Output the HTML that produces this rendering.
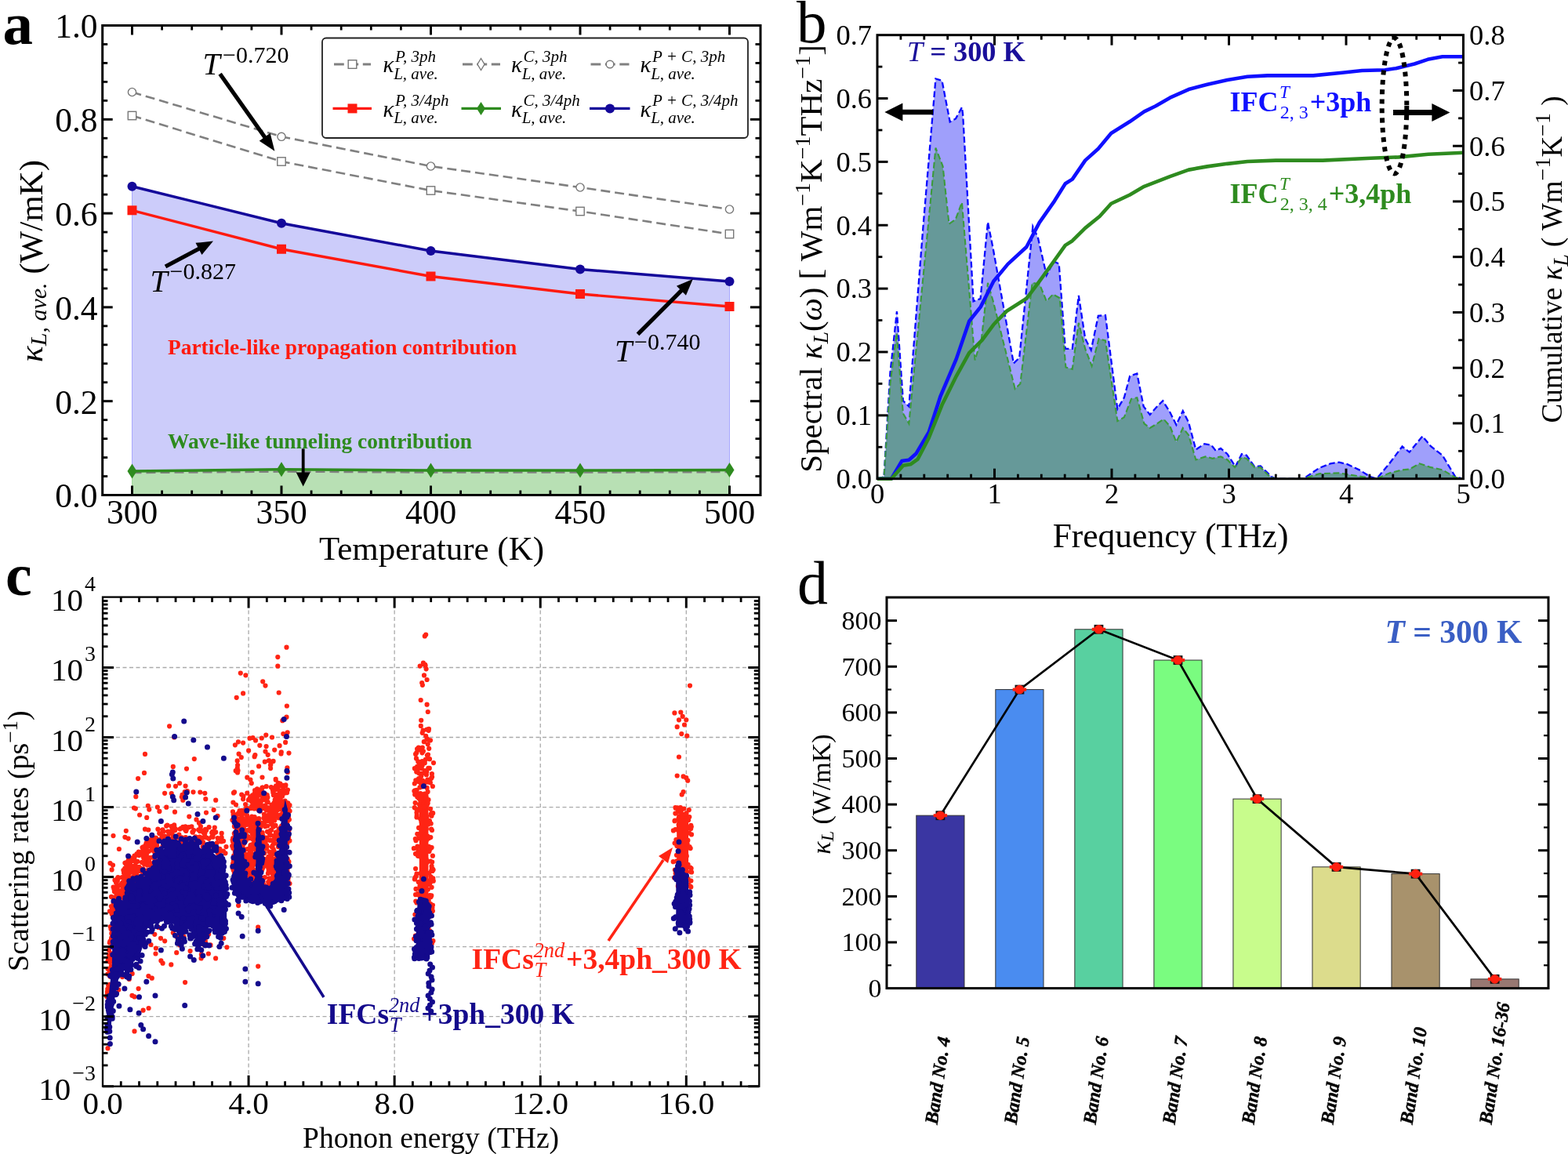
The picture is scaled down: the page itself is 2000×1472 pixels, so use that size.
<!DOCTYPE html>
<html><head><meta charset="utf-8"><title>Figure</title>
<style>html,body{margin:0;padding:0;background:#fff;overflow:hidden}svg{display:block}</style>
</head><body>
<svg width="2000" height="1472" viewBox="0 0 2000 1472" font-family="'Liberation Serif', 'Times New Roman', serif">
<rect width="2000" height="1472" fill="#fff"/>
<polygon points="168.5,237.75 359,284.75 549.5,320 740,343.5 930.5,359 930.5,599.5 740,600 549.5,600 359,598.8 168.5,601" fill="#ccccfa" stroke="#a8a8ff" stroke-width="1" />
<polygon points="168.5,601 359,598.8 549.5,600 740,600 930.5,599.5 930.5,631.5 168.5,631.5" fill="#b8e0b4" stroke="#a0d89c" stroke-width="1" />
<polyline points="168.5,117.5 359,174.3 549.5,212 740,239 930.5,267" stroke="#808080" stroke-width="2.6" fill="none" stroke-dasharray="12,6"/>
<polyline points="168.5,147.5 359,206 549.5,243 740,269.5 930.5,298.5" stroke="#808080" stroke-width="2.6" fill="none" stroke-dasharray="12,6"/>
<polyline points="168.5,603 359,601.5 549.5,602.5 740,602.5 930.5,602" stroke="#808080" stroke-width="2.6" fill="none" stroke-dasharray="12,6"/>
<circle cx="168.5" cy="117.5" r="5.1" fill="#fff" stroke="#777" stroke-width="1.4"/>
<circle cx="359" cy="174.3" r="5.1" fill="#fff" stroke="#777" stroke-width="1.4"/>
<circle cx="549.5" cy="212" r="5.1" fill="#fff" stroke="#777" stroke-width="1.4"/>
<circle cx="740" cy="239" r="5.1" fill="#fff" stroke="#777" stroke-width="1.4"/>
<circle cx="930.5" cy="267" r="5.1" fill="#fff" stroke="#777" stroke-width="1.4"/>
<rect x="163.3" y="142.3" width="10.4" height="10.4" fill="#fff" stroke="#777" stroke-width="1.4"/>
<rect x="353.8" y="200.8" width="10.4" height="10.4" fill="#fff" stroke="#777" stroke-width="1.4"/>
<rect x="544.3" y="237.8" width="10.4" height="10.4" fill="#fff" stroke="#777" stroke-width="1.4"/>
<rect x="734.8" y="264.3" width="10.4" height="10.4" fill="#fff" stroke="#777" stroke-width="1.4"/>
<rect x="925.3" y="293.3" width="10.4" height="10.4" fill="#fff" stroke="#777" stroke-width="1.4"/>
<polyline points="168.5,268.3 359,317.75 549.5,352.5 740,375 930.5,391" stroke="#ff1a0f" stroke-width="3.4" fill="none" />
<polyline points="168.5,237.75 359,284.75 549.5,320 740,343.5 930.5,359" stroke="#14089a" stroke-width="3.4" fill="none" />
<polyline points="168.5,601 359,598.8 549.5,600 740,600 930.5,599.5" stroke="#2e8b1f" stroke-width="3.4" fill="none" />
<rect x="162.5" y="262.3" width="12" height="12" fill="#ff1a0f"/>
<rect x="353" y="311.75" width="12" height="12" fill="#ff1a0f"/>
<rect x="543.5" y="346.5" width="12" height="12" fill="#ff1a0f"/>
<rect x="734" y="369" width="12" height="12" fill="#ff1a0f"/>
<rect x="924.5" y="385" width="12" height="12" fill="#ff1a0f"/>
<circle cx="168.5" cy="237.75" r="6" fill="#14089a"/>
<circle cx="359" cy="284.75" r="6" fill="#14089a"/>
<circle cx="549.5" cy="320" r="6" fill="#14089a"/>
<circle cx="740" cy="343.5" r="6" fill="#14089a"/>
<circle cx="930.5" cy="359" r="6" fill="#14089a"/>
<polygon points="168.5,591.5 174.5,601 168.5,610.5 162.5,601" fill="#2e8b1f" stroke="none" stroke-width="1" />
<polygon points="359,589.3 365,598.8 359,608.3 353,598.8" fill="#2e8b1f" stroke="none" stroke-width="1" />
<polygon points="549.5,590.5 555.5,600 549.5,609.5 543.5,600" fill="#2e8b1f" stroke="none" stroke-width="1" />
<polygon points="740,590.5 746,600 740,609.5 734,600" fill="#2e8b1f" stroke="none" stroke-width="1" />
<polygon points="930.5,590 936.5,599.5 930.5,609 924.5,599.5" fill="#2e8b1f" stroke="none" stroke-width="1" />
<line x1="168.5" y1="631.5" x2="168.5" y2="619.5" stroke="#000" stroke-width="3" />
<line x1="168.5" y1="32.5" x2="168.5" y2="44.5" stroke="#000" stroke-width="3" />
<line x1="206.6" y1="631.5" x2="206.6" y2="625.5" stroke="#000" stroke-width="2.8" />
<line x1="206.6" y1="32.5" x2="206.6" y2="38.5" stroke="#000" stroke-width="2.8" />
<line x1="244.7" y1="631.5" x2="244.7" y2="625.5" stroke="#000" stroke-width="2.8" />
<line x1="244.7" y1="32.5" x2="244.7" y2="38.5" stroke="#000" stroke-width="2.8" />
<line x1="282.8" y1="631.5" x2="282.8" y2="625.5" stroke="#000" stroke-width="2.8" />
<line x1="282.8" y1="32.5" x2="282.8" y2="38.5" stroke="#000" stroke-width="2.8" />
<line x1="320.9" y1="631.5" x2="320.9" y2="625.5" stroke="#000" stroke-width="2.8" />
<line x1="320.9" y1="32.5" x2="320.9" y2="38.5" stroke="#000" stroke-width="2.8" />
<line x1="359" y1="631.5" x2="359" y2="619.5" stroke="#000" stroke-width="3" />
<line x1="359" y1="32.5" x2="359" y2="44.5" stroke="#000" stroke-width="3" />
<line x1="397.1" y1="631.5" x2="397.1" y2="625.5" stroke="#000" stroke-width="2.8" />
<line x1="397.1" y1="32.5" x2="397.1" y2="38.5" stroke="#000" stroke-width="2.8" />
<line x1="435.2" y1="631.5" x2="435.2" y2="625.5" stroke="#000" stroke-width="2.8" />
<line x1="435.2" y1="32.5" x2="435.2" y2="38.5" stroke="#000" stroke-width="2.8" />
<line x1="473.3" y1="631.5" x2="473.3" y2="625.5" stroke="#000" stroke-width="2.8" />
<line x1="473.3" y1="32.5" x2="473.3" y2="38.5" stroke="#000" stroke-width="2.8" />
<line x1="511.4" y1="631.5" x2="511.4" y2="625.5" stroke="#000" stroke-width="2.8" />
<line x1="511.4" y1="32.5" x2="511.4" y2="38.5" stroke="#000" stroke-width="2.8" />
<line x1="549.5" y1="631.5" x2="549.5" y2="619.5" stroke="#000" stroke-width="3" />
<line x1="549.5" y1="32.5" x2="549.5" y2="44.5" stroke="#000" stroke-width="3" />
<line x1="587.6" y1="631.5" x2="587.6" y2="625.5" stroke="#000" stroke-width="2.8" />
<line x1="587.6" y1="32.5" x2="587.6" y2="38.5" stroke="#000" stroke-width="2.8" />
<line x1="625.7" y1="631.5" x2="625.7" y2="625.5" stroke="#000" stroke-width="2.8" />
<line x1="625.7" y1="32.5" x2="625.7" y2="38.5" stroke="#000" stroke-width="2.8" />
<line x1="663.8" y1="631.5" x2="663.8" y2="625.5" stroke="#000" stroke-width="2.8" />
<line x1="663.8" y1="32.5" x2="663.8" y2="38.5" stroke="#000" stroke-width="2.8" />
<line x1="701.9" y1="631.5" x2="701.9" y2="625.5" stroke="#000" stroke-width="2.8" />
<line x1="701.9" y1="32.5" x2="701.9" y2="38.5" stroke="#000" stroke-width="2.8" />
<line x1="740" y1="631.5" x2="740" y2="619.5" stroke="#000" stroke-width="3" />
<line x1="740" y1="32.5" x2="740" y2="44.5" stroke="#000" stroke-width="3" />
<line x1="778.1" y1="631.5" x2="778.1" y2="625.5" stroke="#000" stroke-width="2.8" />
<line x1="778.1" y1="32.5" x2="778.1" y2="38.5" stroke="#000" stroke-width="2.8" />
<line x1="816.2" y1="631.5" x2="816.2" y2="625.5" stroke="#000" stroke-width="2.8" />
<line x1="816.2" y1="32.5" x2="816.2" y2="38.5" stroke="#000" stroke-width="2.8" />
<line x1="854.3" y1="631.5" x2="854.3" y2="625.5" stroke="#000" stroke-width="2.8" />
<line x1="854.3" y1="32.5" x2="854.3" y2="38.5" stroke="#000" stroke-width="2.8" />
<line x1="892.4" y1="631.5" x2="892.4" y2="625.5" stroke="#000" stroke-width="2.8" />
<line x1="892.4" y1="32.5" x2="892.4" y2="38.5" stroke="#000" stroke-width="2.8" />
<line x1="930.5" y1="631.5" x2="930.5" y2="619.5" stroke="#000" stroke-width="3" />
<line x1="930.5" y1="32.5" x2="930.5" y2="44.5" stroke="#000" stroke-width="3" />
<line x1="130.7" y1="607.54" x2="137.2" y2="607.54" stroke="#000" stroke-width="2.8" />
<line x1="970" y1="607.54" x2="963.5" y2="607.54" stroke="#000" stroke-width="2.8" />
<line x1="130.7" y1="583.58" x2="137.2" y2="583.58" stroke="#000" stroke-width="2.8" />
<line x1="970" y1="583.58" x2="963.5" y2="583.58" stroke="#000" stroke-width="2.8" />
<line x1="130.7" y1="559.62" x2="137.2" y2="559.62" stroke="#000" stroke-width="2.8" />
<line x1="970" y1="559.62" x2="963.5" y2="559.62" stroke="#000" stroke-width="2.8" />
<line x1="130.7" y1="535.66" x2="137.2" y2="535.66" stroke="#000" stroke-width="2.8" />
<line x1="970" y1="535.66" x2="963.5" y2="535.66" stroke="#000" stroke-width="2.8" />
<line x1="130.7" y1="511.7" x2="143.7" y2="511.7" stroke="#000" stroke-width="3" />
<line x1="970" y1="511.7" x2="957" y2="511.7" stroke="#000" stroke-width="3" />
<line x1="130.7" y1="487.74" x2="137.2" y2="487.74" stroke="#000" stroke-width="2.8" />
<line x1="970" y1="487.74" x2="963.5" y2="487.74" stroke="#000" stroke-width="2.8" />
<line x1="130.7" y1="463.78" x2="137.2" y2="463.78" stroke="#000" stroke-width="2.8" />
<line x1="970" y1="463.78" x2="963.5" y2="463.78" stroke="#000" stroke-width="2.8" />
<line x1="130.7" y1="439.82" x2="137.2" y2="439.82" stroke="#000" stroke-width="2.8" />
<line x1="970" y1="439.82" x2="963.5" y2="439.82" stroke="#000" stroke-width="2.8" />
<line x1="130.7" y1="415.86" x2="137.2" y2="415.86" stroke="#000" stroke-width="2.8" />
<line x1="970" y1="415.86" x2="963.5" y2="415.86" stroke="#000" stroke-width="2.8" />
<line x1="130.7" y1="391.9" x2="143.7" y2="391.9" stroke="#000" stroke-width="3" />
<line x1="970" y1="391.9" x2="957" y2="391.9" stroke="#000" stroke-width="3" />
<line x1="130.7" y1="367.94" x2="137.2" y2="367.94" stroke="#000" stroke-width="2.8" />
<line x1="970" y1="367.94" x2="963.5" y2="367.94" stroke="#000" stroke-width="2.8" />
<line x1="130.7" y1="343.98" x2="137.2" y2="343.98" stroke="#000" stroke-width="2.8" />
<line x1="970" y1="343.98" x2="963.5" y2="343.98" stroke="#000" stroke-width="2.8" />
<line x1="130.7" y1="320.02" x2="137.2" y2="320.02" stroke="#000" stroke-width="2.8" />
<line x1="970" y1="320.02" x2="963.5" y2="320.02" stroke="#000" stroke-width="2.8" />
<line x1="130.7" y1="296.06" x2="137.2" y2="296.06" stroke="#000" stroke-width="2.8" />
<line x1="970" y1="296.06" x2="963.5" y2="296.06" stroke="#000" stroke-width="2.8" />
<line x1="130.7" y1="272.1" x2="143.7" y2="272.1" stroke="#000" stroke-width="3" />
<line x1="970" y1="272.1" x2="957" y2="272.1" stroke="#000" stroke-width="3" />
<line x1="130.7" y1="248.14" x2="137.2" y2="248.14" stroke="#000" stroke-width="2.8" />
<line x1="970" y1="248.14" x2="963.5" y2="248.14" stroke="#000" stroke-width="2.8" />
<line x1="130.7" y1="224.18" x2="137.2" y2="224.18" stroke="#000" stroke-width="2.8" />
<line x1="970" y1="224.18" x2="963.5" y2="224.18" stroke="#000" stroke-width="2.8" />
<line x1="130.7" y1="200.22" x2="137.2" y2="200.22" stroke="#000" stroke-width="2.8" />
<line x1="970" y1="200.22" x2="963.5" y2="200.22" stroke="#000" stroke-width="2.8" />
<line x1="130.7" y1="176.26" x2="137.2" y2="176.26" stroke="#000" stroke-width="2.8" />
<line x1="970" y1="176.26" x2="963.5" y2="176.26" stroke="#000" stroke-width="2.8" />
<line x1="130.7" y1="152.3" x2="143.7" y2="152.3" stroke="#000" stroke-width="3" />
<line x1="970" y1="152.3" x2="957" y2="152.3" stroke="#000" stroke-width="3" />
<line x1="130.7" y1="128.34" x2="137.2" y2="128.34" stroke="#000" stroke-width="2.8" />
<line x1="970" y1="128.34" x2="963.5" y2="128.34" stroke="#000" stroke-width="2.8" />
<line x1="130.7" y1="104.38" x2="137.2" y2="104.38" stroke="#000" stroke-width="2.8" />
<line x1="970" y1="104.38" x2="963.5" y2="104.38" stroke="#000" stroke-width="2.8" />
<line x1="130.7" y1="80.42" x2="137.2" y2="80.42" stroke="#000" stroke-width="2.8" />
<line x1="970" y1="80.42" x2="963.5" y2="80.42" stroke="#000" stroke-width="2.8" />
<line x1="130.7" y1="56.46" x2="137.2" y2="56.46" stroke="#000" stroke-width="2.8" />
<line x1="970" y1="56.46" x2="963.5" y2="56.46" stroke="#000" stroke-width="2.8" />
<rect x="411" y="48.5" width="543" height="127.5" rx="5" ry="5" fill="#fff" stroke="#222" stroke-width="1.8"/>
<line x1="426" y1="82" x2="473" y2="82" stroke="#808080" stroke-width="3.2" stroke-dasharray="12.8,5.6"/>
<rect x="444.2" y="76.7" width="10.6" height="10.6" fill="#fff" stroke="#777" stroke-width="1.4"/>
<text x="488.5" y="92.3" font-size="29" text-anchor="start" font-weight="normal" font-style="italic" fill="#000" >κ</text>
<text x="504" y="78.5" font-size="21" text-anchor="start" font-weight="normal" font-style="italic" fill="#000" >P, 3ph</text>
<text x="502.2" y="100.8" font-size="21" text-anchor="start" font-weight="normal" font-style="italic" fill="#000" >L, ave.</text>
<line x1="590" y1="82" x2="638" y2="82" stroke="#808080" stroke-width="3.2" stroke-dasharray="12.8,5.6"/>
<polygon points="613.5,74.5 618,82 613.5,89.5 609,82" fill="#fff" stroke="#777" stroke-width="1.4" />
<text x="652" y="92.3" font-size="29" text-anchor="start" font-weight="normal" font-style="italic" fill="#000" >κ</text>
<text x="667.5" y="78.5" font-size="21" text-anchor="start" font-weight="normal" font-style="italic" fill="#000" >C, 3ph</text>
<text x="665.7" y="100.8" font-size="21" text-anchor="start" font-weight="normal" font-style="italic" fill="#000" >L, ave.</text>
<line x1="753.5" y1="82" x2="802.5" y2="82" stroke="#808080" stroke-width="3.2" stroke-dasharray="12.8,5.6"/>
<circle cx="778" cy="82" r="4.8" fill="#fff" stroke="#777" stroke-width="1.4"/>
<text x="816.5" y="92.3" font-size="29" text-anchor="start" font-weight="normal" font-style="italic" fill="#000" >κ</text>
<text x="832" y="78.5" font-size="21" text-anchor="start" font-weight="normal" font-style="italic" fill="#000" >P + C, 3ph</text>
<text x="830.2" y="100.8" font-size="21" text-anchor="start" font-weight="normal" font-style="italic" fill="#000" >L, ave.</text>
<line x1="424.5" y1="138.4" x2="474" y2="138.4" stroke="#ff1a0f" stroke-width="3.4" />
<rect x="443.5" y="132.4" width="12" height="12" fill="#ff1a0f"/>
<text x="488.5" y="148.7" font-size="29" text-anchor="start" font-weight="normal" font-style="italic" fill="#000" >κ</text>
<text x="504" y="134.9" font-size="21" text-anchor="start" font-weight="normal" font-style="italic" fill="#000" >P, 3/4ph</text>
<text x="502.2" y="157.2" font-size="21" text-anchor="start" font-weight="normal" font-style="italic" fill="#000" >L, ave.</text>
<line x1="588.5" y1="138.4" x2="639" y2="138.4" stroke="#2e8b1f" stroke-width="3.4" />
<polygon points="613.5,129.9 619,138.4 613.5,146.9 608,138.4" fill="#2e8b1f" stroke="none" stroke-width="1" />
<text x="652" y="148.7" font-size="29" text-anchor="start" font-weight="normal" font-style="italic" fill="#000" >κ</text>
<text x="667.5" y="134.9" font-size="21" text-anchor="start" font-weight="normal" font-style="italic" fill="#000" >C, 3/4ph</text>
<text x="665.7" y="157.2" font-size="21" text-anchor="start" font-weight="normal" font-style="italic" fill="#000" >L, ave.</text>
<line x1="752" y1="138.4" x2="803.5" y2="138.4" stroke="#14089a" stroke-width="3.4" />
<circle cx="778" cy="138.4" r="6" fill="#14089a"/>
<text x="816.5" y="148.7" font-size="29" text-anchor="start" font-weight="normal" font-style="italic" fill="#000" >κ</text>
<text x="832" y="134.9" font-size="21" text-anchor="start" font-weight="normal" font-style="italic" fill="#000" >P + C, 3/4ph</text>
<text x="830.2" y="157.2" font-size="21" text-anchor="start" font-weight="normal" font-style="italic" fill="#000" >L, ave.</text>
<text x="258.5" y="95.4" font-size="40" text-anchor="start" font-weight="normal" font-style="italic" fill="#000" >T</text>
<text x="284" y="80.1" font-size="30" text-anchor="start" font-weight="normal" font-style="normal" fill="#000" >−0.720</text>
<line x1="280.6" y1="94.3" x2="338.83" y2="176.39" stroke="#000" stroke-width="5.2" /><polygon points="350.4,192.7 330.74,179.67 344.6,169.84" fill="#000" stroke="none" stroke-width="1" />
<text x="191.5" y="372" font-size="40" text-anchor="start" font-weight="normal" font-style="italic" fill="#000" >T</text>
<text x="216.5" y="356" font-size="30" text-anchor="start" font-weight="normal" font-style="normal" fill="#000" >−0.827</text>
<line x1="211" y1="340" x2="255.23" y2="316.43" stroke="#000" stroke-width="5.2" /><polygon points="272,307.5 257.46,324.88 249.47,309.87" fill="#000" stroke="none" stroke-width="1" />
<text x="784" y="461" font-size="40" text-anchor="start" font-weight="normal" font-style="italic" fill="#000" >T</text>
<text x="809" y="446" font-size="30" text-anchor="start" font-weight="normal" font-style="normal" fill="#000" >−0.740</text>
<line x1="813.5" y1="426.3" x2="870.36" y2="369.44" stroke="#000" stroke-width="5.2" /><polygon points="883.8,356 874.96,376.86 862.94,364.84" fill="#000" stroke="none" stroke-width="1" />
<text x="214" y="451.7" font-size="27.4" text-anchor="start" font-weight="bold" font-style="normal" fill="#ff1a0f" >Particle-like propagation contribution</text>
<text x="214" y="571.7" font-size="27.4" text-anchor="start" font-weight="bold" font-style="normal" fill="#2e8b1f" >Wave-like tunneling contribution</text>
<line x1="386.7" y1="572.4" x2="386.7" y2="604.4" stroke="#000" stroke-width="3.8" /><polygon points="386.7,620.4 377.7,602.4 395.7,602.4" fill="#000" stroke="none" stroke-width="1" />
<rect x="130.7" y="32.5" width="839.3" height="599" fill="none" stroke="#000" stroke-width="3"/>
<text x="124.5" y="647.3" font-size="43.5" text-anchor="end" font-weight="normal" font-style="normal" fill="#000" >0.0</text>
<text x="124.5" y="527.5" font-size="43.5" text-anchor="end" font-weight="normal" font-style="normal" fill="#000" >0.2</text>
<text x="124.5" y="407.7" font-size="43.5" text-anchor="end" font-weight="normal" font-style="normal" fill="#000" >0.4</text>
<text x="124.5" y="287.9" font-size="43.5" text-anchor="end" font-weight="normal" font-style="normal" fill="#000" >0.6</text>
<text x="124.5" y="168.1" font-size="43.5" text-anchor="end" font-weight="normal" font-style="normal" fill="#000" >0.8</text>
<text x="124.5" y="48.3" font-size="43.5" text-anchor="end" font-weight="normal" font-style="normal" fill="#000" >1.0</text>
<text x="168.5" y="667.5" font-size="43.5" text-anchor="middle" font-weight="normal" font-style="normal" fill="#000" >300</text>
<text x="359" y="667.5" font-size="43.5" text-anchor="middle" font-weight="normal" font-style="normal" fill="#000" >350</text>
<text x="549.5" y="667.5" font-size="43.5" text-anchor="middle" font-weight="normal" font-style="normal" fill="#000" >400</text>
<text x="740" y="667.5" font-size="43.5" text-anchor="middle" font-weight="normal" font-style="normal" fill="#000" >450</text>
<text x="930.5" y="667.5" font-size="43.5" text-anchor="middle" font-weight="normal" font-style="normal" fill="#000" >500</text>
<text x="550.5" y="714" font-size="43" text-anchor="middle" font-weight="normal" font-style="normal" fill="#000" >Temperature (K)</text>
<text transform="translate(53.5,333) rotate(-90)" font-size="43" text-anchor="middle"><tspan font-style="italic">κ</tspan><tspan font-style="italic" font-size="30" dy="5">L, ave.</tspan><tspan dy="-5">  (W/mK)</tspan></text>
<text x="3.5" y="56" font-size="77" text-anchor="start" font-weight="bold" font-style="normal" fill="#000" >a</text>
<polygon points="1119,610.7 1127.52,608.27 1135.44,475.66 1143.97,397.23 1151.89,511.24 1159.37,518.52 1177.31,291.3 1193.45,100.47 1201.52,102.9 1211.69,155.46 1219.02,151.42 1226.94,136.86 1228.13,145.76 1241.59,384.29 1250.56,381.06 1259.98,283.22 1267.01,318.8 1292.87,463.53 1300.19,456.26 1317.39,288.88 1323.96,303.43 1334.88,351.14 1344.15,333.35 1350.72,336.58 1358.8,444.94 1367.77,444.94 1375.84,377.01 1384.21,432 1391.69,446.55 1400.81,402.89 1409.93,402.08 1425.33,521.75 1433.85,507.2 1441.17,479.71 1450.29,476.47 1458.66,518.52 1466.74,529.03 1475.86,518.52 1483.18,511.24 1492.3,525.8 1500.37,541.97 1508.75,524.18 1516.07,538.73 1525.34,573.5 1536.25,566.23 1545.08,567.84 1550.91,575.12 1557.04,571.89 1565.56,579.16 1575.72,595.34 1583.8,579.16 1589.92,580.78 1600.24,595.34 1607.87,594.53 1622.22,608.27 1627.3,610.7 1662.43,610.7 1682.62,596.95 1697.12,591.29 1708.03,589.68 1718.49,592.1 1733.74,599.38 1748.39,608.27 1755.87,610.7 1772.17,591.29 1788.61,569.46 1797.73,576.74 1814.32,556.52 1825.24,569.46 1839.89,580.78 1856.33,608.27 1866.5,610.7 1866.5,610.7 1119,610.7" fill="#9f9ffb" stroke="none" stroke-width="1" />
<polygon points="1119,610.7 1127.52,608.27 1135.44,489.41 1143.67,424.72 1151.89,527.41 1159.37,540.35 1193.45,188.61 1202.57,212.06 1210.49,285.64 1218.72,279.98 1226.94,258.15 1243.53,459.49 1251.91,432 1259.98,360.84 1267.01,385.1 1294.66,495.88 1301.39,489.41 1316.64,360.84 1325.91,362.46 1334.88,384.29 1342.95,375.4 1351.77,380.25 1359.4,468.39 1367.77,470.81 1375.84,411.78 1384.21,444.94 1392.59,466.77 1401.56,432 1409.93,434.43 1425.33,537.12 1433.85,532.27 1442.97,508.82 1450.29,507.2 1459.41,540.35 1466.74,546.01 1475.86,540.35 1484.23,534.69 1492.3,543.59 1500.37,563.8 1508.75,546.01 1516.07,554.91 1525.34,586.44 1537.6,582.4 1546.57,584.82 1557.04,582.4 1565.56,586.44 1574.97,596.15 1583.8,583.21 1589.92,584.82 1600.24,596.15 1607.87,596.15 1619.83,608.27 1627.3,610.7 1662.43,610.7 1682.62,604.23 1708.03,603.42 1733.45,607.47 1748.39,609.89 1755.87,610.7 1772.17,603.42 1788.61,599.38 1797.73,598.57 1810.59,591.29 1825.24,596.15 1839.89,599.38 1856.33,609.08 1866.5,610.7 1866.5,610.7 1119,610.7" fill="#669999" stroke="none" stroke-width="1" />
<polyline points="1119,610.7 1127.52,608.27 1135.44,475.66 1143.97,397.23 1151.89,511.24 1159.37,518.52 1177.31,291.3 1193.45,100.47 1201.52,102.9 1211.69,155.46 1219.02,151.42 1226.94,136.86 1228.13,145.76 1241.59,384.29 1250.56,381.06 1259.98,283.22 1267.01,318.8 1292.87,463.53 1300.19,456.26 1317.39,288.88 1323.96,303.43 1334.88,351.14 1344.15,333.35 1350.72,336.58 1358.8,444.94 1367.77,444.94 1375.84,377.01 1384.21,432 1391.69,446.55 1400.81,402.89 1409.93,402.08 1425.33,521.75 1433.85,507.2 1441.17,479.71 1450.29,476.47 1458.66,518.52 1466.74,529.03 1475.86,518.52 1483.18,511.24 1492.3,525.8 1500.37,541.97 1508.75,524.18 1516.07,538.73 1525.34,573.5 1536.25,566.23 1545.08,567.84 1550.91,575.12 1557.04,571.89 1565.56,579.16 1575.72,595.34 1583.8,579.16 1589.92,580.78 1600.24,595.34 1607.87,594.53 1622.22,608.27 1627.3,610.7 1662.43,610.7 1682.62,596.95 1697.12,591.29 1708.03,589.68 1718.49,592.1 1733.74,599.38 1748.39,608.27 1755.87,610.7 1772.17,591.29 1788.61,569.46 1797.73,576.74 1814.32,556.52 1825.24,569.46 1839.89,580.78 1856.33,608.27 1866.5,610.7" stroke="#0a0aff" stroke-width="2.3" fill="none" stroke-dasharray="7.8,3.6"/>
<polyline points="1119,610.7 1127.52,608.27 1135.44,489.41 1143.67,424.72 1151.89,527.41 1159.37,540.35 1193.45,188.61 1202.57,212.06 1210.49,285.64 1218.72,279.98 1226.94,258.15 1243.53,459.49 1251.91,432 1259.98,360.84 1267.01,385.1 1294.66,495.88 1301.39,489.41 1316.64,360.84 1325.91,362.46 1334.88,384.29 1342.95,375.4 1351.77,380.25 1359.4,468.39 1367.77,470.81 1375.84,411.78 1384.21,444.94 1392.59,466.77 1401.56,432 1409.93,434.43 1425.33,537.12 1433.85,532.27 1442.97,508.82 1450.29,507.2 1459.41,540.35 1466.74,546.01 1475.86,540.35 1484.23,534.69 1492.3,543.59 1500.37,563.8 1508.75,546.01 1516.07,554.91 1525.34,586.44 1537.6,582.4 1546.57,584.82 1557.04,582.4 1565.56,586.44 1574.97,596.15 1583.8,583.21 1589.92,584.82 1600.24,596.15 1607.87,596.15 1619.83,608.27 1627.3,610.7 1662.43,610.7 1682.62,604.23 1708.03,603.42 1733.45,607.47 1748.39,609.89 1755.87,610.7 1772.17,603.42 1788.61,599.38 1797.73,598.57 1810.59,591.29 1825.24,596.15 1839.89,599.38 1856.33,609.08 1866.5,610.7" stroke="#3c9a3c" stroke-width="2.1" fill="none" stroke-dasharray="7.8,3.6"/>
<polyline points="1119,610.7 1136.94,610.7 1150.25,588.06 1159.37,586.65 1168.34,578.86 1184.78,551.27 1199.58,505.28 1219.76,457.88 1236.21,409.77 1250.86,391.38 1267.3,358.83 1285.54,336.9 1309.31,314.97 1325.76,283.84 1344.15,257.66 1358.8,234.31 1367.77,228.65 1384.21,204.6 1400.81,189.74 1417.25,169.93 1441.17,155.07 1459.41,142.34 1474.06,135.26 1492.3,124.65 1516.07,114.04 1539.84,107.67 1565.56,102.01 1591.12,97.76 1616.69,96.35 1675.14,96.35 1711.77,92.81 1737.33,89.98 1766.63,89.27 1780.54,87.15 1804.16,81.49 1821.05,75.83 1839.74,72.29 1866.5,72.29" stroke="#1010ff" stroke-width="4.6" fill="none" stroke-linejoin="round"/>
<polyline points="1119,610.7 1136.94,610.7 1152.04,593.72 1161.31,592.31 1170.43,585.94 1184.78,558.35 1201.52,516.6 1219.76,479.81 1236.21,450.1 1252.65,433.83 1267.3,414.01 1283.75,397.04 1309.31,380.76 1325.76,358.83 1344.15,333.36 1358.8,312.84 1367.77,307.18 1384.21,290.91 1402.6,276.05 1417.25,259.78 1441.17,248.46 1459.41,237.85 1492.3,225.11 1516.07,216.62 1539.84,212.38 1565.56,208.84 1591.12,206.01 1627.3,204.6 1687.1,204.6 1748.39,201.77 1784.28,200.35 1821.65,196.81 1866.5,194.69" stroke="#2e8b1f" stroke-width="4.6" fill="none" stroke-linejoin="round"/>
<line x1="1148.9" y1="610.7" x2="1148.9" y2="604.7" stroke="#000" stroke-width="2.8" />
<line x1="1148.9" y1="44.7" x2="1148.9" y2="50.7" stroke="#000" stroke-width="2.8" />
<line x1="1178.8" y1="610.7" x2="1178.8" y2="604.7" stroke="#000" stroke-width="2.8" />
<line x1="1178.8" y1="44.7" x2="1178.8" y2="50.7" stroke="#000" stroke-width="2.8" />
<line x1="1208.7" y1="610.7" x2="1208.7" y2="604.7" stroke="#000" stroke-width="2.8" />
<line x1="1208.7" y1="44.7" x2="1208.7" y2="50.7" stroke="#000" stroke-width="2.8" />
<line x1="1238.6" y1="610.7" x2="1238.6" y2="604.7" stroke="#000" stroke-width="2.8" />
<line x1="1238.6" y1="44.7" x2="1238.6" y2="50.7" stroke="#000" stroke-width="2.8" />
<line x1="1268.5" y1="610.7" x2="1268.5" y2="597.7" stroke="#000" stroke-width="3" />
<line x1="1268.5" y1="44.7" x2="1268.5" y2="57.7" stroke="#000" stroke-width="3" />
<line x1="1298.4" y1="610.7" x2="1298.4" y2="604.7" stroke="#000" stroke-width="2.8" />
<line x1="1298.4" y1="44.7" x2="1298.4" y2="50.7" stroke="#000" stroke-width="2.8" />
<line x1="1328.3" y1="610.7" x2="1328.3" y2="604.7" stroke="#000" stroke-width="2.8" />
<line x1="1328.3" y1="44.7" x2="1328.3" y2="50.7" stroke="#000" stroke-width="2.8" />
<line x1="1358.2" y1="610.7" x2="1358.2" y2="604.7" stroke="#000" stroke-width="2.8" />
<line x1="1358.2" y1="44.7" x2="1358.2" y2="50.7" stroke="#000" stroke-width="2.8" />
<line x1="1388.1" y1="610.7" x2="1388.1" y2="604.7" stroke="#000" stroke-width="2.8" />
<line x1="1388.1" y1="44.7" x2="1388.1" y2="50.7" stroke="#000" stroke-width="2.8" />
<line x1="1418" y1="610.7" x2="1418" y2="597.7" stroke="#000" stroke-width="3" />
<line x1="1418" y1="44.7" x2="1418" y2="57.7" stroke="#000" stroke-width="3" />
<line x1="1447.9" y1="610.7" x2="1447.9" y2="604.7" stroke="#000" stroke-width="2.8" />
<line x1="1447.9" y1="44.7" x2="1447.9" y2="50.7" stroke="#000" stroke-width="2.8" />
<line x1="1477.8" y1="610.7" x2="1477.8" y2="604.7" stroke="#000" stroke-width="2.8" />
<line x1="1477.8" y1="44.7" x2="1477.8" y2="50.7" stroke="#000" stroke-width="2.8" />
<line x1="1507.7" y1="610.7" x2="1507.7" y2="604.7" stroke="#000" stroke-width="2.8" />
<line x1="1507.7" y1="44.7" x2="1507.7" y2="50.7" stroke="#000" stroke-width="2.8" />
<line x1="1537.6" y1="610.7" x2="1537.6" y2="604.7" stroke="#000" stroke-width="2.8" />
<line x1="1537.6" y1="44.7" x2="1537.6" y2="50.7" stroke="#000" stroke-width="2.8" />
<line x1="1567.5" y1="610.7" x2="1567.5" y2="597.7" stroke="#000" stroke-width="3" />
<line x1="1567.5" y1="44.7" x2="1567.5" y2="57.7" stroke="#000" stroke-width="3" />
<line x1="1597.4" y1="610.7" x2="1597.4" y2="604.7" stroke="#000" stroke-width="2.8" />
<line x1="1597.4" y1="44.7" x2="1597.4" y2="50.7" stroke="#000" stroke-width="2.8" />
<line x1="1627.3" y1="610.7" x2="1627.3" y2="604.7" stroke="#000" stroke-width="2.8" />
<line x1="1627.3" y1="44.7" x2="1627.3" y2="50.7" stroke="#000" stroke-width="2.8" />
<line x1="1657.2" y1="610.7" x2="1657.2" y2="604.7" stroke="#000" stroke-width="2.8" />
<line x1="1657.2" y1="44.7" x2="1657.2" y2="50.7" stroke="#000" stroke-width="2.8" />
<line x1="1687.1" y1="610.7" x2="1687.1" y2="604.7" stroke="#000" stroke-width="2.8" />
<line x1="1687.1" y1="44.7" x2="1687.1" y2="50.7" stroke="#000" stroke-width="2.8" />
<line x1="1717" y1="610.7" x2="1717" y2="597.7" stroke="#000" stroke-width="3" />
<line x1="1717" y1="44.7" x2="1717" y2="57.7" stroke="#000" stroke-width="3" />
<line x1="1746.9" y1="610.7" x2="1746.9" y2="604.7" stroke="#000" stroke-width="2.8" />
<line x1="1746.9" y1="44.7" x2="1746.9" y2="50.7" stroke="#000" stroke-width="2.8" />
<line x1="1776.8" y1="610.7" x2="1776.8" y2="604.7" stroke="#000" stroke-width="2.8" />
<line x1="1776.8" y1="44.7" x2="1776.8" y2="50.7" stroke="#000" stroke-width="2.8" />
<line x1="1806.7" y1="610.7" x2="1806.7" y2="604.7" stroke="#000" stroke-width="2.8" />
<line x1="1806.7" y1="44.7" x2="1806.7" y2="50.7" stroke="#000" stroke-width="2.8" />
<line x1="1836.6" y1="610.7" x2="1836.6" y2="604.7" stroke="#000" stroke-width="2.8" />
<line x1="1836.6" y1="44.7" x2="1836.6" y2="50.7" stroke="#000" stroke-width="2.8" />
<line x1="1119" y1="570.27" x2="1125.4" y2="570.27" stroke="#000" stroke-width="2.8" />
<line x1="1119" y1="529.84" x2="1132.5" y2="529.84" stroke="#000" stroke-width="3" />
<line x1="1119" y1="489.41" x2="1125.4" y2="489.41" stroke="#000" stroke-width="2.8" />
<line x1="1119" y1="448.98" x2="1132.5" y2="448.98" stroke="#000" stroke-width="3" />
<line x1="1119" y1="408.55" x2="1125.4" y2="408.55" stroke="#000" stroke-width="2.8" />
<line x1="1119" y1="368.12" x2="1132.5" y2="368.12" stroke="#000" stroke-width="3" />
<line x1="1119" y1="327.69" x2="1125.4" y2="327.69" stroke="#000" stroke-width="2.8" />
<line x1="1119" y1="287.26" x2="1132.5" y2="287.26" stroke="#000" stroke-width="3" />
<line x1="1119" y1="246.83" x2="1125.4" y2="246.83" stroke="#000" stroke-width="2.8" />
<line x1="1119" y1="206.4" x2="1132.5" y2="206.4" stroke="#000" stroke-width="3" />
<line x1="1119" y1="165.97" x2="1125.4" y2="165.97" stroke="#000" stroke-width="2.8" />
<line x1="1119" y1="125.54" x2="1132.5" y2="125.54" stroke="#000" stroke-width="3" />
<line x1="1119" y1="85.11" x2="1125.4" y2="85.11" stroke="#000" stroke-width="2.8" />
<line x1="1866.5" y1="575.33" x2="1860.1" y2="575.33" stroke="#000" stroke-width="2.8" />
<line x1="1866.5" y1="539.95" x2="1853" y2="539.95" stroke="#000" stroke-width="3" />
<line x1="1866.5" y1="504.58" x2="1860.1" y2="504.58" stroke="#000" stroke-width="2.8" />
<line x1="1866.5" y1="469.2" x2="1853" y2="469.2" stroke="#000" stroke-width="3" />
<line x1="1866.5" y1="433.83" x2="1860.1" y2="433.83" stroke="#000" stroke-width="2.8" />
<line x1="1866.5" y1="398.45" x2="1853" y2="398.45" stroke="#000" stroke-width="3" />
<line x1="1866.5" y1="363.08" x2="1860.1" y2="363.08" stroke="#000" stroke-width="2.8" />
<line x1="1866.5" y1="327.7" x2="1853" y2="327.7" stroke="#000" stroke-width="3" />
<line x1="1866.5" y1="292.33" x2="1860.1" y2="292.33" stroke="#000" stroke-width="2.8" />
<line x1="1866.5" y1="256.95" x2="1853" y2="256.95" stroke="#000" stroke-width="3" />
<line x1="1866.5" y1="221.57" x2="1860.1" y2="221.57" stroke="#000" stroke-width="2.8" />
<line x1="1866.5" y1="186.2" x2="1853" y2="186.2" stroke="#000" stroke-width="3" />
<line x1="1866.5" y1="150.83" x2="1860.1" y2="150.83" stroke="#000" stroke-width="2.8" />
<line x1="1866.5" y1="115.45" x2="1853" y2="115.45" stroke="#000" stroke-width="3" />
<line x1="1866.5" y1="80.08" x2="1860.1" y2="80.08" stroke="#000" stroke-width="2.8" />
<rect x="1119" y="44.7" width="747.5" height="566" fill="none" stroke="#000" stroke-width="3"/>
<line x1="1190.2" y1="143" x2="1149.4" y2="143" stroke="#000" stroke-width="6.5" /><polygon points="1128.4,143 1151.4,131.5 1151.4,154.5" fill="#000" stroke="none" stroke-width="1" />
<line x1="1777" y1="143.5" x2="1828.4" y2="143.5" stroke="#000" stroke-width="7.2" /><polygon points="1849.4,143.5 1826.4,155 1826.4,132" fill="#000" stroke="none" stroke-width="1" />
<ellipse cx="1778.5" cy="135" rx="15.8" ry="86.5" fill="none" stroke="#000" stroke-width="6" stroke-dasharray="6,6.2"/>
<text x="1157" y="78" font-size="36.3" font-weight="bold" fill="#1a0f9a"><tspan font-style="italic" font-weight="normal">T</tspan> = 300 K</text>
<text x="1568.5" y="142.3" font-size="36" font-weight="bold" fill="#1010ff">IFC<tspan font-size="23" font-weight="normal" font-style="italic" dx="1.5" dy="-17">T</tspan><tspan font-size="24" font-weight="normal" dx="-12" dy="26">2, 3</tspan><tspan dy="-9" dx="2">+3ph</tspan></text>
<text x="1568.5" y="258.6" font-size="36" font-weight="bold" fill="#2e8b1f">IFC<tspan font-size="23" font-weight="normal" font-style="italic" dx="1.5" dy="-17">T</tspan><tspan font-size="24" font-weight="normal" dx="-12" dy="26">2, 3, 4</tspan><tspan dy="-9" dx="2">+3,4ph</tspan></text>
<text x="1112" y="623" font-size="36.5" text-anchor="end" font-weight="normal" font-style="normal" fill="#000" >0.0</text>
<text x="1112" y="542.14" font-size="36.5" text-anchor="end" font-weight="normal" font-style="normal" fill="#000" >0.1</text>
<text x="1112" y="461.28" font-size="36.5" text-anchor="end" font-weight="normal" font-style="normal" fill="#000" >0.2</text>
<text x="1112" y="380.42" font-size="36.5" text-anchor="end" font-weight="normal" font-style="normal" fill="#000" >0.3</text>
<text x="1112" y="299.56" font-size="36.5" text-anchor="end" font-weight="normal" font-style="normal" fill="#000" >0.4</text>
<text x="1112" y="218.7" font-size="36.5" text-anchor="end" font-weight="normal" font-style="normal" fill="#000" >0.5</text>
<text x="1112" y="137.84" font-size="36.5" text-anchor="end" font-weight="normal" font-style="normal" fill="#000" >0.6</text>
<text x="1112" y="56.98" font-size="36.5" text-anchor="end" font-weight="normal" font-style="normal" fill="#000" >0.7</text>
<text x="1874" y="623" font-size="36.5" text-anchor="start" font-weight="normal" font-style="normal" fill="#000" >0.0</text>
<text x="1874" y="552.25" font-size="36.5" text-anchor="start" font-weight="normal" font-style="normal" fill="#000" >0.1</text>
<text x="1874" y="481.5" font-size="36.5" text-anchor="start" font-weight="normal" font-style="normal" fill="#000" >0.2</text>
<text x="1874" y="410.75" font-size="36.5" text-anchor="start" font-weight="normal" font-style="normal" fill="#000" >0.3</text>
<text x="1874" y="340" font-size="36.5" text-anchor="start" font-weight="normal" font-style="normal" fill="#000" >0.4</text>
<text x="1874" y="269.25" font-size="36.5" text-anchor="start" font-weight="normal" font-style="normal" fill="#000" >0.5</text>
<text x="1874" y="198.5" font-size="36.5" text-anchor="start" font-weight="normal" font-style="normal" fill="#000" >0.6</text>
<text x="1874" y="127.75" font-size="36.5" text-anchor="start" font-weight="normal" font-style="normal" fill="#000" >0.7</text>
<text x="1874" y="57" font-size="36.5" text-anchor="start" font-weight="normal" font-style="normal" fill="#000" >0.8</text>
<text x="1119" y="642" font-size="36.5" text-anchor="middle" font-weight="normal" font-style="normal" fill="#000" >0</text>
<text x="1268.5" y="642" font-size="36.5" text-anchor="middle" font-weight="normal" font-style="normal" fill="#000" >1</text>
<text x="1418" y="642" font-size="36.5" text-anchor="middle" font-weight="normal" font-style="normal" fill="#000" >2</text>
<text x="1567.5" y="642" font-size="36.5" text-anchor="middle" font-weight="normal" font-style="normal" fill="#000" >3</text>
<text x="1717" y="642" font-size="36.5" text-anchor="middle" font-weight="normal" font-style="normal" fill="#000" >4</text>
<text x="1866.5" y="642" font-size="36.5" text-anchor="middle" font-weight="normal" font-style="normal" fill="#000" >5</text>
<text x="1493" y="698.3" font-size="43.5" text-anchor="middle" font-weight="normal" font-style="normal" fill="#000" >Frequency (THz)</text>
<text transform="translate(1047.5,330) rotate(-90)" font-size="41" text-anchor="middle">Spectral <tspan font-style="italic">κ</tspan><tspan font-style="italic" font-size="28" dy="8">L</tspan><tspan dy="-8">(</tspan><tspan font-style="italic">ω</tspan>) [ Wm<tspan font-size="28" dy="-15">−1</tspan><tspan dy="15">K</tspan><tspan font-size="28" dy="-15">−1</tspan><tspan dy="15">THz</tspan><tspan font-size="28" dy="-15">−1</tspan><tspan dy="15">]</tspan></text>
<text transform="translate(1992,331) rotate(-90)" font-size="37" text-anchor="middle">Cumulative <tspan font-style="italic">κ</tspan><tspan font-style="italic" font-size="28" dy="8">L</tspan><tspan dy="-8"> ( Wm</tspan><tspan font-size="28" dy="-15">−1</tspan><tspan dy="15">K</tspan><tspan font-size="28" dy="-15">−1</tspan><tspan dy="15"> )</tspan></text>
<text x="1016" y="54" font-size="77" text-anchor="start" font-weight="normal" font-style="normal" fill="#000" >b</text>
<line x1="317.08" y1="761.6" x2="317.08" y2="1385.7" stroke="#aaa" stroke-width="1.3" stroke-dasharray="5,3.5"/>
<line x1="503.16" y1="761.6" x2="503.16" y2="1385.7" stroke="#aaa" stroke-width="1.3" stroke-dasharray="5,3.5"/>
<line x1="689.24" y1="761.6" x2="689.24" y2="1385.7" stroke="#aaa" stroke-width="1.3" stroke-dasharray="5,3.5"/>
<line x1="875.32" y1="761.6" x2="875.32" y2="1385.7" stroke="#aaa" stroke-width="1.3" stroke-dasharray="5,3.5"/>
<line x1="131" y1="1296.68" x2="968.3" y2="1296.68" stroke="#aaa" stroke-width="1.3" stroke-dasharray="5,3.5"/>
<line x1="131" y1="1207.64" x2="968.3" y2="1207.64" stroke="#aaa" stroke-width="1.3" stroke-dasharray="5,3.5"/>
<line x1="131" y1="1118.6" x2="968.3" y2="1118.6" stroke="#aaa" stroke-width="1.3" stroke-dasharray="5,3.5"/>
<line x1="131" y1="1029.56" x2="968.3" y2="1029.56" stroke="#aaa" stroke-width="1.3" stroke-dasharray="5,3.5"/>
<line x1="131" y1="940.52" x2="968.3" y2="940.52" stroke="#aaa" stroke-width="1.3" stroke-dasharray="5,3.5"/>
<line x1="131" y1="851.48" x2="968.3" y2="851.48" stroke="#aaa" stroke-width="1.3" stroke-dasharray="5,3.5"/>
<polygon points="534.79,1011.75 546.42,1011.75 546.42,1189.83 534.79,1189.83" fill="#ff2414" stroke="none" stroke-width="1" />
<polygon points="863.22,1038.46 878.11,1038.46 878.11,1127.5 863.22,1127.5" fill="#ff2414" stroke="none" stroke-width="1" />
<path d="M156.4 1143.8h0M170.7 1113.4h0M139.3 1237.3h0M163.3 1104.6h0M174.6 1089.2h0M197.5 1102.5h0M144.9 1158.1h0M147.2 1138.1h0M171.0 1123.2h0M178.2 1107.1h0M165.0 1118.6h0M149.9 1131.7h0M182.2 1109.3h0M163.1 1108.0h0M139.1 1218.4h0M190.3 1099.7h0M173.6 1106.1h0M167.2 1106.6h0M176.9 1086.6h0M161.4 1113.9h0M148.4 1155.8h0M143.2 1161.3h0M139.8 1202.5h0M187.1 1080.8h0M159.3 1107.5h0M147.6 1152.0h0M174.0 1114.1h0M160.7 1119.3h0M168.3 1104.9h0M193.4 1078.2h0M161.9 1124.2h0M140.6 1245.7h0M158.1 1145.8h0M144.7 1196.9h0M174.6 1118.4h0M160.8 1136.4h0M165.8 1113.1h0M158.0 1135.6h0M137.5 1225.8h0M167.7 1124.0h0M189.9 1085.8h0M145.4 1133.9h0M158.0 1137.5h0M190.0 1079.3h0M150.5 1136.3h0M138.2 1257.1h0M198.2 1088.9h0M195.8 1094.1h0M147.4 1149.1h0M187.7 1094.5h0M143.2 1181.8h0M183.7 1102.1h0M158.0 1113.4h0M161.3 1101.2h0M145.8 1165.3h0M146.9 1135.2h0M158.4 1122.8h0M194.6 1080.0h0M163.7 1101.2h0M152.2 1144.2h0M154.0 1138.5h0M156.8 1125.2h0M161.5 1101.2h0M168.4 1126.0h0M137.3 1261.7h0M181.0 1099.9h0M171.9 1098.5h0M152.1 1142.9h0M172.2 1097.8h0M173.1 1105.2h0M162.4 1112.3h0M180.5 1087.9h0M171.5 1091.7h0M144.7 1161.1h0M141.5 1185.0h0M145.9 1137.2h0M191.6 1074.3h0M162.9 1119.2h0M145.8 1145.6h0M148.7 1146.3h0M171.7 1109.7h0M177.6 1105.8h0M185.9 1077.7h0M139.0 1212.0h0M163.0 1100.7h0M144.6 1131.5h0M141.8 1232.4h0M140.0 1162.3h0M143.4 1166.7h0M162.7 1117.9h0M152.5 1148.8h0M143.9 1196.5h0M155.9 1137.7h0M167.4 1121.6h0M152.0 1153.6h0M148.7 1141.4h0M185.5 1099.3h0M159.9 1116.9h0M157.4 1110.0h0M162.1 1123.9h0M140.9 1182.2h0M142.7 1166.0h0M153.8 1143.9h0M146.1 1147.9h0M196.8 1086.6h0M156.6 1136.1h0M166.3 1112.7h0M137.7 1276.9h0M138.9 1262.1h0M172.8 1103.9h0M180.3 1087.3h0M197.3 1096.2h0M140.3 1200.8h0M182.7 1089.0h0M168.4 1096.6h0M172.2 1091.7h0M151.4 1155.7h0M141.9 1156.1h0M175.3 1098.9h0M184.8 1086.3h0M177.3 1119.0h0M141.1 1221.4h0M181.5 1081.1h0M166.4 1103.9h0M176.8 1120.1h0M182.4 1108.1h0M139.7 1226.8h0M177.4 1111.1h0M165.9 1125.0h0M198.1 1068.8h0M186.6 1075.4h0M149.9 1123.2h0M145.8 1144.7h0M188.4 1094.8h0M150.7 1120.7h0M136.1 1270.9h0M144.6 1151.8h0M136.9 1265.0h0M194.5 1080.3h0M160.8 1126.4h0M158.9 1126.8h0M142.4 1161.0h0M151.4 1144.3h0M160.9 1102.4h0M176.7 1090.2h0M181.0 1118.2h0M183.1 1094.0h0M193.1 1105.4h0M155.7 1119.0h0M176.3 1111.1h0M147.4 1155.7h0M169.9 1118.5h0M164.6 1125.9h0M157.8 1144.5h0M171.8 1092.7h0M161.6 1116.6h0M140.9 1226.5h0M168.1 1104.9h0M152.6 1144.0h0M195.7 1073.5h0M139.4 1225.4h0M171.3 1124.3h0M188.3 1079.8h0M142.0 1197.4h0M193.9 1078.3h0M166.4 1111.5h0M150.5 1119.0h0M143.6 1160.5h0M142.3 1196.0h0M160.5 1130.8h0M156.5 1131.4h0M191.3 1094.0h0M196.0 1079.3h0M166.8 1104.5h0M177.9 1089.0h0M157.3 1129.3h0M185.3 1086.7h0M196.9 1093.3h0M149.7 1129.5h0M167.4 1122.3h0M178.3 1088.8h0M149.9 1120.7h0M141.8 1216.0h0M182.6 1080.4h0M148.1 1125.9h0M177.1 1109.0h0M146.9 1159.7h0M196.3 1103.2h0M159.1 1109.6h0M138.2 1223.2h0M148.7 1144.9h0M162.0 1105.6h0M139.3 1262.9h0M182.4 1084.2h0M195.7 1084.3h0M157.7 1139.5h0M193.5 1084.5h0M153.2 1136.5h0M159.5 1130.5h0M194.5 1101.4h0M186.9 1083.2h0M156.4 1134.7h0M148.8 1131.2h0M137.5 1235.8h0M191.2 1071.6h0M142.3 1190.7h0M150.1 1138.5h0M182.6 1085.3h0M187.8 1103.6h0M182.3 1113.3h0M145.4 1132.2h0M160.4 1100.3h0M187.0 1089.8h0M167.0 1099.0h0M139.5 1244.1h0M197.6 1082.4h0M190.1 1097.1h0M194.1 1104.1h0M150.4 1143.3h0M152.0 1129.3h0M137.0 1267.9h0M156.2 1142.0h0M139.6 1242.4h0M176.8 1120.3h0M161.1 1127.4h0M155.3 1126.9h0M189.7 1072.2h0M183.6 1112.9h0M161.3 1105.5h0M166.2 1124.3h0M177.3 1091.1h0M160.0 1122.7h0M169.6 1094.8h0M186.5 1076.6h0M194.6 1068.9h0M194.9 1093.6h0M187.7 1110.4h0M161.9 1104.7h0M149.2 1141.5h0M143.9 1165.4h0M139.1 1224.2h0M187.5 1111.3h0M174.3 1112.4h0M162.0 1110.2h0M137.4 1242.5h0M183.3 1087.5h0M166.5 1126.1h0M142.0 1198.7h0M175.8 1117.9h0M167.4 1125.1h0M197.3 1100.8h0M182.8 1090.5h0M167.5 1094.5h0M186.1 1079.4h0M183.9 1113.2h0M185.0 1112.2h0M148.7 1147.5h0M140.0 1255.9h0M179.4 1090.3h0M143.1 1164.6h0M276.8 1075.0h0M207.4 1058.4h0M272.7 1077.5h0M230.9 1056.6h0M266.9 1079.8h0M255.9 1054.2h0M227.6 1075.3h0M253.0 1068.8h0M210.4 1074.7h0M199.4 1087.3h0M218.5 1062.1h0M257.0 1069.5h0M221.8 1073.4h0M277.7 1069.2h0M198.7 1075.2h0M259.0 1068.3h0M222.3 1053.6h0M237.1 1069.9h0M200.1 1078.2h0M215.5 1063.0h0M272.7 1082.2h0M203.2 1063.1h0M199.0 1068.8h0M266.5 1069.8h0M219.0 1076.9h0M262.0 1057.9h0M249.5 1067.3h0M223.4 1059.1h0M279.1 1093.7h0M266.6 1055.2h0M279.2 1085.5h0M255.0 1060.2h0M240.9 1055.2h0M237.8 1058.5h0M219.6 1063.0h0M213.3 1080.3h0M230.3 1071.3h0M261.4 1062.7h0M203.4 1071.1h0M275.2 1061.4h0M282.7 1068.4h0M209.7 1078.7h0M256.1 1058.4h0M207.6 1078.4h0M228.4 1064.6h0M223.8 1057.3h0M287.5 1088.3h0M199.9 1079.2h0M229.6 1057.5h0M277.7 1088.1h0M198.8 1089.8h0M197.2 1081.9h0M214.4 1067.8h0M222.2 1052.3h0M263.5 1068.5h0M205.4 1063.4h0M255.3 1071.5h0M280.2 1092.0h0M218.2 1070.4h0M233.3 1054.9h0M247.2 1059.0h0M231.4 1068.2h0M259.6 1062.0h0M270.0 1067.5h0M279.8 1087.6h0M263.2 1059.0h0M220.6 1068.0h0M230.0 1070.1h0M208.5 1060.5h0M288.5 1080.1h0M216.9 1062.8h0M232.8 1074.5h0M261.3 1066.9h0M210.2 1066.7h0M280.3 1082.8h0M236.7 1068.1h0M270.2 1062.2h0M256.8 1069.7h0M207.7 1070.7h0M255.3 1074.1h0M254.5 1067.7h0M215.4 1061.8h0M244.4 1054.4h0M214.2 1060.5h0M206.3 1068.1h0M245.9 1061.7h0M236.4 1054.4h0M236.3 1058.8h0M230.9 1074.1h0M198.5 1082.9h0M231.0 1069.7h0M284.9 1085.5h0M235.4 1070.7h0M271.5 1067.7h0M218.4 1054.0h0M272.8 1063.0h0M249.1 1075.1h0M275.9 1082.5h0M238.9 1071.1h0M223.9 1070.2h0M237.3 1060.0h0M285.1 1072.8h0M282.5 1073.5h0M258.7 1079.9h0M259.0 1074.2h0M219.6 1057.7h0M282.2 1073.4h0M253.3 1058.4h0M271.1 1060.8h0M245.4 1061.3h0M223.0 1035.7h0M213.4 1052.5h0M212.3 1029.7h0M140.5 1101.1h0M238.9 1009.0h0M282.7 1062.9h0M144.0 1103.6h0M188.8 1027.8h0M273.8 1055.6h0M190.3 1032.6h0M218.7 1012.1h0M203.4 1034.9h0M263.0 1036.6h0M215.1 1002.4h0M189.3 1058.5h0M235.7 1010.1h0M272.6 1033.1h0M142.0 1143.9h0M239.0 1010.4h0M231.8 1016.5h0M241.3 1041.6h0M253.9 1049.7h0M255.3 1010.5h0M262.3 1019.2h0M185.0 1057.7h0M236.6 1002.6h0M146.5 1122.7h0M277.6 1040.8h0M229.1 999.1h0M201.4 1057.7h0M163.8 1097.4h0M159.4 1067.8h0M159.4 1100.8h0M250.5 1045.4h0M246.5 1010.3h0M232.5 1013.9h0M178.1 1039.5h0M142.6 1109.4h0M187.2 1042.9h0M212.2 1053.6h0M205.0 1196.8h0M192.5 1205.0h0M197.3 1191.8h0M225.2 1215.2h0M243.9 1195.8h0M285.3 1196.8h0M202.1 1182.9h0M229.1 1198.5h0M137.5 1337.2h0M262.4 1203.1h0M260.3 1204.9h0M266.1 1191.7h0M189.4 1245.1h0M168.7 1241.9h0M229.3 1205.6h0M176.7 1233.3h0M151.3 1262.6h0M226.2 1195.9h0M210.2 1200.3h0M164.8 1249.0h0M198.9 1209.5h0M289.4 1208.3h0M256.6 1222.4h0M218.3 1230.4h0M268.5 1205.4h0M256.8 1217.5h0M261.8 1199.7h0M168.5 1269.9h0M220.8 1189.8h0M275.1 1222.4h0M156.1 1246.1h0M234.5 1194.8h0M207.6 1228.7h0M171.5 1271.4h0M274.6 1186.8h0M352.4 1038.5h0M300.7 1114.8h0M344.7 1101.6h0M304.2 1100.5h0M331.6 1121.1h0M345.7 1143.0h0M299.5 1041.3h0M360.0 1015.7h0M304.2 1037.0h0M329.8 1096.1h0M342.2 1125.1h0M349.3 1066.2h0M316.3 1090.2h0M357.9 1092.2h0M321.2 1028.4h0M300.5 1041.9h0M331.2 1104.8h0M324.6 1012.3h0M303.9 1103.3h0M349.5 1102.6h0M355.2 1091.9h0M357.3 1065.7h0M362.5 1104.1h0M309.6 1050.7h0M301.7 1122.7h0M315.7 1113.6h0M355.6 1057.8h0M349.7 1085.6h0M356.2 1091.3h0M333.1 1141.7h0M360.4 1100.7h0M322.6 1120.7h0M296.2 1079.2h0M305.9 1058.3h0M319.0 1051.8h0M301.8 1044.2h0M333.7 1070.5h0M367.0 1101.4h0M315.1 1042.3h0M348.3 1117.2h0M338.4 1070.8h0M360.1 1038.5h0M332.4 1075.1h0M324.9 1123.1h0M307.3 1073.6h0M356.0 1008.3h0M356.2 1066.0h0M353.0 1094.2h0M328.7 1007.8h0M356.6 1020.5h0M366.1 1011.1h0M342.3 1093.1h0M328.4 1074.2h0M367.9 1030.2h0M355.5 1014.9h0M342.9 1106.7h0M335.6 1014.5h0M334.9 1083.9h0M319.5 1060.3h0M365.9 1065.1h0M335.6 1124.6h0M317.8 1090.3h0M303.5 1076.2h0M338.3 1054.2h0M329.5 1067.7h0M319.3 1110.7h0M325.1 1064.4h0M358.4 1103.4h0M316.9 1020.4h0M308.6 1128.7h0M300.1 1093.0h0M305.6 1110.2h0M307.2 1100.5h0M341.7 1023.2h0M350.3 1036.1h0M353.9 1040.1h0M359.9 1134.1h0M332.1 1010.1h0M353.0 1016.4h0M329.3 1080.0h0M324.5 1068.5h0M353.0 1020.1h0M310.5 1103.8h0M339.4 1132.5h0M358.3 1021.7h0M327.8 1019.1h0M338.7 1074.3h0M334.9 1004.5h0M345.7 1089.8h0M321.7 1018.2h0M303.1 1095.3h0M339.1 1020.4h0M329.2 1057.8h0M335.4 1030.9h0M367.3 1024.4h0M362.4 1040.1h0M361.4 1078.6h0M333.9 1074.6h0M341.0 1060.8h0M341.8 1139.9h0M319.5 1054.3h0M357.5 1056.2h0M332.6 1068.4h0M334.5 1004.6h0M305.4 1117.7h0M302.6 1115.6h0M341.2 1030.2h0M352.4 1095.6h0M310.1 1108.2h0M338.2 1096.0h0M299.0 1041.9h0M328.5 1058.6h0M363.6 1021.7h0M354.4 1095.7h0M332.6 1013.0h0M348.2 1114.5h0M331.8 1034.7h0M323.2 1116.9h0M336.7 1128.9h0M326.8 1134.3h0M322.3 1110.0h0M313.5 1133.7h0M308.4 1059.6h0M356.0 1120.8h0M354.4 1118.5h0M324.4 1017.2h0M332.9 1113.0h0M348.6 1107.0h0M322.9 1108.9h0M359.0 1118.9h0M315.5 1047.1h0M337.6 1101.5h0M309.0 1043.2h0M304.0 1076.1h0M318.0 1132.1h0M305.6 1059.9h0M363.6 1029.7h0M307.2 1106.0h0M343.9 1095.3h0M347.7 1108.8h0M343.4 1120.3h0M350.1 1041.6h0M308.1 1115.5h0M299.2 1099.2h0M357.4 1058.3h0M328.2 1049.7h0M357.1 1030.5h0M359.1 1053.6h0M305.1 1053.1h0M350.8 1130.9h0M350.8 1024.6h0M366.3 1075.7h0M349.7 1023.8h0M299.8 1062.1h0M364.0 1115.1h0M347.5 1029.5h0M366.5 1048.2h0M300.5 1095.7h0M318.9 1122.0h0M313.1 1110.0h0M364.1 1087.2h0M306.3 1076.2h0M336.9 1038.8h0M340.2 1078.3h0M304.6 1104.3h0M301.3 1104.2h0M328.8 1128.5h0M323.0 1119.4h0M369.6 1034.5h0M368.4 1058.1h0M328.0 1117.0h0M362.2 1046.7h0M344.0 1109.6h0M298.9 1054.2h0M311.0 1064.3h0M309.4 1049.1h0M320.6 1116.6h0M322.5 1070.4h0M313.1 1133.2h0M357.5 1039.3h0M332.8 1075.4h0M338.6 1133.5h0M328.9 1010.8h0M328.5 1116.9h0M357.8 1018.7h0M316.4 1058.9h0M320.5 1083.7h0M362.0 1112.5h0M337.6 1096.3h0M321.6 1082.1h0M360.4 1003.2h0M355.0 1130.4h0M318.9 1069.2h0M342.8 1103.6h0M298.3 1110.3h0M302.2 1066.0h0M326.2 1070.5h0M305.6 1114.7h0M304.8 1044.6h0M334.2 1109.8h0M313.7 1072.3h0M339.1 1134.1h0M327.5 1024.9h0M352.7 1126.9h0M303.7 1048.1h0M366.3 1057.6h0M353.0 1134.6h0M297.8 1072.5h0M348.7 1083.0h0M361.1 1058.6h0M308.2 1055.4h0M346.5 1026.7h0M350.1 1007.1h0M339.2 1130.7h0M304.6 1037.2h0M311.1 1086.2h0M305.8 1132.7h0M309.8 1076.1h0M324.9 1122.0h0M346.8 1028.5h0M320.0 1121.5h0M355.2 1136.6h0M345.5 1088.7h0M358.6 1082.4h0M302.4 1100.2h0M339.7 1139.7h0M330.1 1064.6h0M297.0 1073.5h0M330.3 1008.1h0M345.2 1106.9h0M313.9 1070.7h0M367.5 1123.3h0M359.3 1029.9h0M323.3 1103.3h0M364.3 1044.0h0M349.9 1070.4h0M337.2 1088.2h0M319.4 1016.1h0M314.1 1111.2h0M296.4 1046.1h0M338.0 1102.7h0M318.4 1100.9h0M365.5 1086.8h0M300.6 1113.1h0M321.2 1041.5h0M302.0 1082.7h0M315.6 1136.5h0M347.4 1114.0h0M340.1 1021.8h0M349.6 1005.0h0M355.1 1016.6h0M311.0 1076.2h0M363.0 1105.6h0M343.4 1086.6h0M301.7 1090.1h0M320.4 1077.5h0M331.0 1141.3h0M367.4 1120.5h0M320.7 1129.0h0M352.6 1129.2h0M334.7 1062.0h0M340.2 1097.6h0M348.3 1034.1h0M352.1 1002.3h0M334.7 1013.0h0M331.2 1052.7h0M368.4 1099.2h0M299.4 1116.5h0M337.5 1119.4h0M307.3 1115.3h0M308.5 1132.9h0M367.5 1065.2h0M354.0 1076.5h0M305.4 1058.1h0M326.6 1026.6h0M327.3 1017.9h0M312.8 1109.7h0M313.5 1113.6h0M318.5 1018.2h0M308.4 1041.7h0M351.0 1025.6h0M332.4 1021.6h0M338.7 1080.1h0M311.1 1037.7h0M360.8 1109.6h0M319.7 1138.0h0M298.0 1042.9h0M303.6 1115.5h0M320.9 1022.2h0M367.8 1125.9h0M346.1 1139.8h0M330.0 1128.8h0M320.2 1030.9h0M306.9 1090.6h0M307.0 1056.1h0M322.8 1076.7h0M313.1 1026.0h0M316.4 1118.1h0M299.0 1080.9h0M322.5 1138.9h0M335.4 1066.0h0M359.5 1038.7h0M326.5 1011.2h0M326.4 1123.0h0M340.7 1014.2h0M324.1 1110.2h0M358.0 1029.1h0M346.5 1097.7h0M320.7 1018.7h0M356.7 1065.6h0M313.6 1064.2h0M347.3 1088.1h0M345.2 1098.2h0M312.7 1068.8h0M330.2 1044.1h0M313.4 1121.2h0M334.8 1070.5h0M308.1 1046.0h0M356.8 1013.7h0M324.4 1031.5h0M308.3 1109.4h0M354.6 1066.5h0M325.1 1008.2h0M331.3 1033.2h0M345.5 1092.3h0M323.4 1097.0h0M311.6 1072.9h0M348.5 1105.9h0M356.2 1124.4h0M311.5 1088.5h0M323.0 1135.9h0M347.5 1103.1h0M354.8 1090.7h0M364.8 1106.9h0M323.5 1054.5h0M350.7 1088.7h0M362.9 1033.2h0M330.6 1079.4h0M330.2 1021.3h0M333.2 1028.4h0M325.4 1135.9h0M352.8 1032.4h0M302.5 1049.8h0M352.3 1062.6h0M349.2 1075.7h0M328.2 1063.4h0M359.5 1116.6h0M297.0 1035.4h0M319.9 1107.6h0M334.3 1086.2h0M359.8 1026.5h0M310.6 1131.5h0M329.7 1076.0h0M355.6 1111.6h0M299.6 1099.4h0M337.4 1100.7h0M318.1 1051.7h0M328.3 1015.7h0M300.7 1087.8h0M358.9 1126.1h0M363.8 1058.0h0M345.4 1048.5h0M357.9 1117.4h0M304.3 1121.9h0M326.6 1054.9h0M347.4 1123.3h0M299.5 1048.9h0M338.5 1099.9h0M363.0 1089.9h0M354.5 1001.4h0M324.3 1058.0h0M303.3 1084.7h0M346.0 1128.5h0M364.4 1001.4h0M317.7 1096.2h0M362.7 1119.9h0M340.3 1068.5h0M316.6 1031.3h0M362.2 1127.0h0M321.5 1019.7h0M320.8 1084.7h0M309.5 1049.5h0M336.0 1131.4h0M340.7 1079.8h0M304.3 1067.4h0M322.0 1092.3h0M308.3 1033.9h0M360.2 1070.7h0M359.5 1119.4h0M305.6 1086.1h0M333.6 1094.1h0M311.5 1124.5h0M334.7 1020.6h0M331.1 1034.0h0M313.6 1051.6h0M298.3 1091.3h0M360.8 1122.9h0M339.8 1033.5h0M314.6 1068.1h0M341.7 1045.9h0M355.5 1074.6h0M364.6 1078.0h0M314.2 1051.9h0M321.8 1123.3h0M321.9 1016.9h0M331.7 1073.7h0M351.5 1052.9h0M358.9 1029.5h0M323.0 1119.9h0M351.5 1123.3h0M362.9 1033.5h0M340.0 1082.3h0M360.6 1094.9h0M366.5 1115.7h0M315.0 1040.1h0M328.3 1111.0h0M345.4 1043.5h0M355.4 1043.2h0M325.3 1129.4h0M321.9 1063.8h0M297.3 1081.9h0M355.0 1080.2h0M320.1 1114.5h0M342.0 1103.9h0M346.8 1080.3h0M306.6 1063.2h0M310.6 1106.6h0M311.7 1034.2h0M326.0 1075.1h0M368.6 1104.1h0M335.6 1146.5h0M329.6 1033.1h0M304.5 1075.8h0M324.8 1018.8h0M300.5 1069.7h0M322.4 1054.8h0M335.2 1049.6h0M324.3 1014.7h0M345.1 1065.2h0M361.3 1036.6h0M321.6 1122.7h0M306.9 1072.4h0M324.7 1042.0h0M351.2 1101.0h0M368.0 1045.8h0M324.0 1013.6h0M315.6 1119.1h0M354.7 1092.1h0M360.3 1112.9h0M319.0 1134.1h0M367.0 1007.5h0M364.8 1106.2h0M303.9 1107.2h0M367.0 1097.2h0M328.5 1027.8h0M319.5 1120.4h0M337.2 1049.9h0M322.4 1021.9h0M342.4 1107.9h0M355.6 1060.9h0M316.7 1110.3h0M350.2 1046.5h0M303.6 1100.6h0M342.7 1045.5h0M364.5 1035.5h0M355.6 1091.9h0M334.5 1070.5h0M307.0 1099.5h0M332.6 1025.0h0M325.7 1066.5h0M354.4 1022.5h0M352.5 1070.5h0M349.7 1024.4h0M305.9 1059.4h0M315.5 1130.3h0M316.5 1113.8h0M345.9 1004.2h0M347.7 1134.3h0M297.2 1069.1h0M299.7 1086.3h0M299.9 1049.7h0M341.8 1097.4h0M312.8 1047.9h0M356.5 1064.3h0M298.4 1080.7h0M341.7 1041.3h0M334.0 1063.8h0M369.5 1027.1h0M367.8 1119.4h0M329.4 1049.0h0M320.9 1116.8h0M310.0 1054.2h0M311.1 1058.3h0M338.4 1045.9h0M365.2 1011.0h0M302.6 1110.8h0M348.9 1054.4h0M309.1 1067.1h0M298.9 1114.1h0M355.3 1076.0h0M305.7 1052.0h0M361.5 1028.2h0M305.2 1123.1h0M313.3 1109.1h0M348.9 1008.2h0M350.3 1088.1h0M306.5 1134.8h0M324.7 1139.3h0M330.9 1137.1h0M300.7 1098.2h0M331.9 1056.0h0M363.1 1083.3h0M304.9 1114.0h0M342.6 1044.1h0M348.5 1137.6h0M345.5 1043.5h0M347.8 1078.3h0M340.2 1138.4h0M313.5 1091.4h0M342.9 1039.2h0M367.7 1027.4h0M314.3 1030.5h0M364.6 1048.3h0M307.8 1134.1h0M367.7 1040.2h0M309.4 1081.1h0M362.5 1011.7h0M336.0 1029.2h0M340.0 1031.7h0M336.1 1104.3h0M351.3 1139.7h0M329.6 1126.3h0M328.6 1127.6h0M322.0 1127.5h0M357.8 1123.6h0M350.4 1120.6h0M352.7 1141.8h0M346.1 1058.7h0M325.2 1058.7h0M350.9 1028.7h0M348.0 1139.6h0M328.6 1024.9h0M328.7 1047.2h0M322.5 1099.7h0M368.9 1045.6h0M357.3 999.5h0M315.2 1090.0h0M360.4 1012.1h0M353.1 1013.8h0M303.8 1049.1h0M323.7 1071.2h0M333.5 1053.3h0M325.5 1017.4h0M302.8 1112.5h0M297.1 1101.6h0M309.0 1087.3h0M350.8 1035.8h0M298.8 1063.2h0M365.7 1047.1h0M339.9 1046.6h0M301.2 1130.2h0M305.8 1082.4h0M316.6 1046.8h0M318.3 1088.6h0M350.0 1131.3h0M357.2 1133.6h0M358.4 1026.2h0M297.7 1109.9h0M344.2 1060.5h0M307.7 1125.3h0M344.0 1063.8h0M298.9 1048.8h0M323.8 1048.2h0M314.5 1095.4h0M314.5 1045.5h0M352.3 1111.2h0M324.0 1092.8h0M359.0 1127.7h0M313.3 1135.0h0M330.3 1046.0h0M331.5 1120.7h0M304.7 1127.8h0M365.0 1059.6h0M351.8 1061.6h0M359.7 1121.1h0M314.3 1118.1h0M303.3 1105.1h0M349.1 1134.6h0M311.3 1062.4h0M368.1 1067.9h0M344.8 1071.5h0M350.4 1067.6h0M341.3 1053.5h0M365.7 1034.7h0M362.3 1110.4h0M362.1 1123.0h0M328.9 1124.9h0M338.1 1012.5h0M297.6 1039.2h0M331.6 1012.3h0M341.9 1114.0h0M369.4 1072.4h0M319.4 1090.0h0M299.0 1094.2h0M296.6 1071.5h0M337.7 1045.0h0M305.6 1034.1h0M334.7 1063.2h0M313.0 1118.4h0M325.6 1021.3h0M366.7 1095.5h0M300.5 1040.6h0M319.0 1103.9h0M327.8 1069.8h0M344.4 1072.0h0M344.8 1059.6h0M367.8 1105.9h0M337.8 1119.1h0M312.7 1095.4h0M301.4 1056.8h0M346.2 1030.2h0M345.5 1042.7h0M366.2 1030.2h0M364.6 1104.6h0M361.9 1102.2h0M345.1 1035.3h0M312.6 1107.4h0M326.9 1086.0h0M364.3 1057.3h0M328.2 1119.1h0M344.4 1123.4h0M351.6 1021.9h0M348.2 1006.5h0M318.9 1107.4h0M357.9 1016.5h0M297.6 1077.1h0M302.2 1132.0h0M296.8 1107.2h0M369.5 1127.0h0M366.6 1111.2h0M319.3 1088.0h0M300.8 1122.7h0M341.8 1047.0h0M349.0 1095.7h0M364.4 1058.9h0M346.8 1089.1h0M355.2 1027.1h0M310.9 1056.5h0M312.9 1126.6h0M306.4 1114.7h0M342.6 1111.5h0M336.4 1043.5h0M312.0 1103.6h0M341.4 1017.2h0M345.0 1108.2h0M352.2 1022.0h0M353.8 1097.8h0M300.8 1070.7h0M335.2 1123.0h0M330.7 1116.9h0M334.3 1093.2h0M353.5 1127.3h0M331.5 1108.6h0M319.4 1079.3h0M325.0 1082.2h0M340.6 1130.6h0M318.4 1134.6h0M305.5 1085.2h0M301.7 1055.7h0M304.3 1093.5h0M300.4 1101.8h0M304.8 1127.1h0M357.6 1115.8h0M327.9 1097.2h0M367.1 1115.6h0M359.6 1013.6h0M339.4 1104.4h0M350.5 1127.9h0M304.1 1049.9h0M315.5 1083.1h0M359.2 1093.7h0M320.3 1117.4h0M360.4 1057.9h0M341.2 1016.9h0M358.1 1025.1h0M323.6 1095.4h0M312.3 1033.3h0M361.1 1034.8h0M354.8 998.8h0M355.2 1103.4h0M356.9 1119.1h0M356.9 1089.6h0M361.5 1115.9h0M347.1 1051.7h0M335.7 1082.0h0M353.5 1017.9h0M314.6 1126.9h0M354.7 1108.5h0M349.7 1116.0h0M354.5 1006.0h0M362.5 1070.6h0M318.9 1031.1h0M338.4 1027.4h0M326.6 1022.9h0M324.0 1093.8h0M306.6 1038.6h0M327.7 1045.4h0M334.8 1029.2h0M312.9 1051.6h0M360.1 1001.6h0M348.3 1011.1h0M320.8 1048.7h0M334.0 1052.7h0M369.3 1057.1h0M362.7 1058.8h0M322.9 1021.4h0M334.5 1018.3h0M333.3 1014.2h0M341.6 1030.8h0M314.7 1106.4h0M331.2 1131.0h0M348.7 1037.3h0M332.9 1119.3h0M311.1 1069.9h0M348.1 1043.6h0M364.5 1125.1h0M303.2 1124.4h0M305.4 1084.4h0M321.0 1043.6h0M307.9 1091.2h0M308.8 1112.8h0M319.9 1077.8h0M326.9 1010.4h0M330.5 1116.3h0M308.3 1126.9h0M325.3 1094.9h0M347.5 1089.8h0M338.8 1143.5h0M323.0 1059.4h0M327.0 1101.9h0M350.4 1007.7h0M357.5 1027.8h0M320.6 1020.0h0M310.9 1123.4h0M297.7 1098.1h0M322.5 1025.5h0M363.4 1048.5h0M324.8 1060.5h0M322.5 1091.9h0M335.1 1107.6h0M308.7 1061.0h0M301.2 1051.5h0M300.7 1103.6h0M361.2 1007.4h0M302.7 1038.6h0M350.7 1020.1h0M358.4 1032.4h0M299.5 1124.4h0M348.3 1054.3h0M308.9 1067.4h0M322.1 1014.4h0M317.2 1110.8h0M348.0 1120.3h0M322.9 1046.4h0M344.9 1140.9h0M339.1 1080.6h0M322.4 1089.8h0M363.3 1059.3h0M325.7 1050.5h0M354.9 1068.0h0M325.6 1051.4h0M327.8 1012.4h0M340.9 1100.5h0M362.5 1027.1h0M368.0 1042.9h0M316.4 1067.2h0M332.3 1105.9h0M364.8 1034.0h0M337.6 1016.3h0M364.4 1120.0h0M317.2 1125.0h0M349.2 1107.0h0M303.6 1082.0h0M343.0 1106.5h0M364.2 1002.3h0M353.9 1033.2h0M325.4 1014.8h0M350.9 1122.9h0M368.3 1059.9h0M342.8 1092.7h0M300.2 1084.0h0M360.7 1129.8h0M347.9 1040.8h0M310.2 1121.5h0M309.9 1081.5h0M364.2 1069.5h0M363.6 1103.3h0M366.5 1030.7h0M359.9 1076.8h0M355.1 1043.1h0M331.3 950.8h0M307.8 966.1h0M308.2 1013.6h0M315.3 991.7h0M339.7 1003.2h0M366.7 934.3h0M366.4 979.4h0M299.0 1010.4h0M343.0 970.2h0M322.5 941.0h0M358.8 959.4h0M318.5 941.7h0M301.0 1026.5h0M333.8 1008.0h0M347.0 940.5h0M348.9 1014.2h0M366.9 984.9h0M326.0 944.4h0M298.0 1011.4h0M303.9 946.3h0M334.5 991.5h0M347.9 1007.9h0M304.6 961.7h0M324.6 965.2h0M368.5 960.6h0M348.6 970.9h0M315.3 1011.7h0M339.6 952.1h0M337.8 971.7h0M297.4 1023.5h0M351.7 993.8h0M303.0 985.4h0M351.7 994.7h0M330.1 977.4h0M310.1 1019.3h0M302.7 970.4h0M333.8 941.5h0M319.4 994.6h0M328.0 1006.3h0M358.5 961.4h0M300.7 983.2h0M350.2 956.6h0M345.1 980.1h0M362.2 1010.6h0M310.4 1015.7h0M320.8 999.1h0M325.4 963.1h0M302.8 979.6h0M303.5 982.9h0M345.4 974.9h0M364.1 946.9h0M331.4 1007.7h0M339.3 937.6h0M354.7 1003.7h0M338.5 958.6h0M537.0 1013.0h0M539.7 1207.2h0M549.5 1038.7h0M544.8 1176.9h0M528.1 1197.5h0M552.8 1123.7h0M549.7 1050.5h0M551.0 1059.0h0M539.5 1113.7h0M542.3 1146.6h0M540.3 1089.9h0M541.2 1129.7h0M546.9 1069.3h0M540.5 1103.2h0M544.3 984.5h0M533.4 1086.1h0M537.1 999.5h0M533.7 994.6h0M543.5 1016.8h0M537.8 1198.6h0M544.5 942.2h0M536.9 1176.9h0M540.0 1104.9h0M546.0 962.6h0M538.3 1091.9h0M532.7 1166.6h0M549.3 1118.0h0M538.8 1153.6h0M531.0 967.4h0M543.2 1137.0h0M536.9 1205.3h0M536.2 1021.0h0M528.8 1030.2h0M533.8 977.0h0M542.3 1048.4h0M535.7 1030.6h0M531.4 1151.5h0M538.5 960.3h0M534.4 976.4h0M537.8 1196.1h0M533.3 996.8h0M530.1 1108.1h0M546.3 979.9h0M547.3 1180.5h0M539.6 931.7h0M533.9 1207.2h0M536.8 1088.4h0M545.4 1066.7h0M539.8 1070.2h0M533.3 971.4h0M543.0 1052.3h0M551.6 1110.9h0M540.6 1117.2h0M537.2 1092.9h0M537.6 1162.0h0M539.2 1095.7h0M538.7 976.3h0M530.3 1149.6h0M544.1 1071.5h0M532.6 1034.1h0M543.5 1169.9h0M540.3 1119.6h0M540.3 1035.5h0M543.8 1057.4h0M541.0 1146.3h0M541.5 998.8h0M551.1 991.1h0M544.4 1197.8h0M545.9 1134.5h0M549.3 1068.1h0M538.7 976.0h0M549.2 1153.1h0M529.6 1119.3h0M543.5 1174.7h0M536.2 956.4h0M551.9 1091.7h0M550.2 992.7h0M530.1 961.9h0M548.6 1168.7h0M547.5 1086.0h0M535.5 1004.4h0M545.0 1099.8h0M550.2 1110.5h0M529.3 1008.3h0M536.5 1150.7h0M543.7 1096.1h0M549.1 1082.6h0M532.7 1014.0h0M530.5 1133.9h0M537.6 1048.6h0M528.8 999.5h0M541.4 1039.9h0M547.5 1127.9h0M543.7 984.7h0M551.4 1158.1h0M540.8 1167.1h0M538.1 1167.2h0M532.5 1079.7h0M541.8 973.2h0M533.5 1196.5h0M541.4 1146.4h0M544.9 1145.2h0M538.2 1075.7h0M543.9 1165.4h0M531.2 984.6h0M534.5 1185.1h0M539.9 1138.2h0M537.3 990.0h0M533.8 1205.7h0M545.4 994.5h0M528.4 1009.1h0M539.2 1121.9h0M539.7 1084.6h0M548.3 1080.5h0M549.1 1098.6h0M539.5 1048.0h0M548.0 1187.2h0M550.9 1203.5h0M548.7 1082.2h0M545.6 1009.9h0M544.7 1027.1h0M536.1 1044.3h0M544.5 1128.5h0M542.2 983.0h0M531.3 960.2h0M536.8 1158.6h0M537.9 1173.6h0M550.8 1107.0h0M550.6 1122.1h0M537.8 999.1h0M530.0 1089.1h0M538.9 995.7h0M542.0 1088.2h0M534.1 1055.9h0M538.8 953.5h0M545.5 1190.3h0M536.3 1012.2h0M532.0 1081.5h0M534.3 1185.8h0M541.1 1168.8h0M534.7 1142.1h0M546.6 1180.9h0M542.8 968.8h0M544.8 1046.6h0M539.9 1155.5h0M542.2 1125.6h0M530.3 995.3h0M530.5 1072.2h0M537.8 1093.6h0M553.0 973.1h0M534.4 986.3h0M552.2 1037.2h0M530.8 979.4h0M542.2 1154.3h0M531.5 1032.7h0M544.2 1018.8h0M550.6 1104.9h0M544.6 1004.9h0M542.6 1065.8h0M551.9 1003.0h0M548.2 1142.2h0M550.9 987.1h0M546.8 1079.9h0M547.8 979.9h0M532.3 1165.7h0M537.1 1180.3h0M533.4 979.5h0M535.7 1134.6h0M540.1 1102.1h0M537.9 1207.4h0M535.4 1201.6h0M542.3 1068.3h0M552.6 1109.6h0M532.6 981.7h0M546.5 1020.2h0M532.3 1063.8h0M532.3 1016.6h0M544.3 1041.9h0M542.4 1116.7h0M530.7 1117.7h0M544.7 1025.0h0M539.1 1078.5h0M531.5 1042.4h0M544.9 963.6h0M542.1 1113.3h0M538.9 986.5h0M551.9 1162.1h0M527.9 1082.2h0M538.5 971.2h0M533.7 1125.1h0M543.4 1069.4h0M551.9 1154.6h0M529.9 1193.5h0M545.4 943.1h0M541.9 1204.5h0M542.6 1189.4h0M541.0 1094.9h0M548.0 1047.1h0M549.0 944.3h0M549.0 1031.8h0M548.0 968.2h0M537.6 1125.1h0M537.2 1058.4h0M550.1 1057.6h0M539.2 1052.0h0M542.8 1075.2h0M545.7 949.3h0M549.2 1191.6h0M543.9 988.2h0M533.2 1017.0h0M537.3 1046.6h0M550.3 1142.4h0M537.1 987.6h0M547.2 954.8h0M540.8 946.2h0M538.2 1056.0h0M536.8 1165.3h0M545.8 1049.9h0M541.0 1166.5h0M533.9 953.6h0M528.9 980.2h0M545.8 997.6h0M552.3 1120.4h0M535.6 1019.6h0M541.9 1131.8h0M532.2 977.9h0M545.7 1024.5h0M547.0 1125.0h0M546.8 1081.1h0M531.5 1114.6h0M531.2 1008.9h0M530.1 1141.2h0M538.8 1083.2h0M534.1 993.0h0M541.5 1012.7h0M535.5 1130.2h0M536.9 1129.6h0M541.2 1100.7h0M539.5 1049.4h0M533.7 1179.6h0M533.1 1091.8h0M538.1 975.5h0M531.5 1036.6h0M543.6 1123.1h0M540.2 1076.6h0M550.6 1081.1h0M550.6 1037.6h0M552.4 1200.2h0M537.7 980.1h0M540.0 1093.8h0M546.2 1183.4h0M536.4 1092.7h0M550.5 1040.7h0M529.8 1070.1h0M551.2 1099.5h0M532.1 955.3h0M538.4 1138.8h0M538.7 934.8h0M529.4 1166.5h0M549.6 1144.1h0M541.5 1059.0h0M543.3 1019.6h0M548.5 1126.8h0M544.6 1146.2h0M529.2 1013.4h0M539.3 1143.1h0M547.6 1085.3h0M547.2 1046.8h0M542.7 1154.5h0M541.6 1029.6h0M534.8 979.6h0M548.9 998.3h0M533.9 1018.0h0M535.9 998.1h0M551.8 1108.3h0M548.6 1199.5h0M546.9 1123.4h0M541.4 997.1h0M546.7 1148.7h0M534.8 1026.1h0M538.9 1003.3h0M541.1 1040.3h0M536.4 1114.2h0M546.2 1051.4h0M531.6 1007.8h0M534.4 1069.2h0M550.6 1131.8h0M543.2 1136.3h0M528.9 1121.4h0M539.9 958.2h0M536.3 1203.7h0M533.5 1176.4h0M532.4 1140.2h0M536.0 1063.0h0M536.9 954.7h0M540.6 1116.4h0M544.0 1179.8h0M529.6 1024.0h0M547.3 1113.7h0M531.7 1039.9h0M538.2 871.0h0M536.8 925.9h0M544.4 930.5h0M537.2 918.8h0M545.8 908.0h0M539.9 845.7h0M542.6 848.9h0M544.6 867.0h0M547.0 929.9h0M538.9 873.8h0M535.7 849.6h0M541.0 861.4h0M536.7 893.0h0M544.6 898.7h0M546.7 931.8h0M543.2 938.8h0M541.8 811.4h0M543.2 809.6h0M539.9 847.0h0M542.2 847.9h0M543.6 853.3h0M872.6 1047.2h0M880.4 1106.5h0M881.8 1054.5h0M879.2 1062.6h0M869.1 1033.4h0M861.5 1030.1h0M879.1 1055.7h0M870.7 1083.3h0M877.8 1121.5h0M864.3 1110.7h0M871.3 1038.9h0M882.1 1112.5h0M866.0 1123.0h0M880.7 1082.1h0M875.4 1053.8h0M862.9 1075.9h0M863.3 1098.3h0M881.4 1123.5h0M874.9 1053.5h0M871.6 1074.5h0M873.0 1071.8h0M871.5 1122.6h0M868.5 1075.7h0M869.0 1095.9h0M858.9 1059.4h0M872.5 1096.3h0M878.8 1033.1h0M867.3 1129.4h0M864.2 1107.8h0M869.9 1095.2h0M879.3 1042.0h0M881.2 1057.0h0M861.4 1058.2h0M875.3 1083.5h0M872.6 1125.1h0M864.7 1035.6h0M863.8 1099.1h0M869.5 1048.6h0M867.1 1033.7h0M872.1 1124.7h0M873.9 1098.9h0M871.5 1118.5h0M879.5 1080.1h0M865.6 1052.0h0M869.2 1037.8h0M861.7 1113.9h0M875.8 1092.0h0M875.5 1037.4h0M863.9 1030.4h0M868.6 1107.8h0M866.5 1060.7h0M863.3 1118.0h0M871.3 1135.5h0M860.9 1109.5h0M871.6 1101.1h0M865.7 1097.9h0M874.8 1038.8h0M860.0 1119.5h0M877.4 1071.9h0M881.3 1052.8h0M881.6 1107.7h0M874.3 1096.9h0M861.9 1113.4h0M873.6 1062.0h0M861.8 1030.7h0M865.7 1116.7h0M864.1 1118.0h0M870.9 1116.6h0M862.3 1110.3h0M872.2 1056.4h0M860.5 1047.2h0M862.4 1071.2h0M865.6 1043.9h0M874.4 1049.3h0M874.3 1101.6h0M867.6 1123.1h0M871.7 1092.0h0M867.4 1034.1h0M876.7 1076.6h0M862.7 1109.6h0M866.1 1092.1h0M875.5 1047.7h0M866.3 1119.7h0M868.2 1100.0h0M869.3 1048.3h0M871.2 1054.5h0M875.5 1091.2h0M871.5 1098.0h0M877.6 1102.9h0M881.3 1131.4h0M871.0 1077.8h0M861.4 1037.6h0M874.7 1065.1h0M880.7 1130.7h0M875.8 1119.4h0M863.4 1078.9h0M867.8 1085.8h0M876.6 1062.2h0M869.3 1050.2h0M873.6 1086.4h0M872.4 1031.5h0M875.5 1082.3h0M867.0 1058.4h0M882.0 1064.4h0M860.6 1075.5h0M870.2 1127.3h0M871.5 1088.5h0M867.9 1030.2h0M878.3 1128.5h0M863.0 1090.8h0M880.9 1111.9h0M864.8 1130.2h0M874.0 1074.4h0M875.6 1059.8h0M870.3 1105.4h0M873.9 1115.0h0M878.1 1046.1h0M865.5 1056.5h0M858.7 1099.2h0M860.9 1046.6h0M860.4 909.4h0M868.3 908.5h0M870.7 913.8h0M866.0 918.3h0M875.3 918.3h0M863.7 927.2h0M873.0 924.5h0M869.3 936.1h0M876.3 938.7h0M880.0 874.6h0M866.0 965.5h0M863.7 989.5h0M871.6 990.4h0M875.3 992.2h0M877.2 995.7h0M869.7 1013.5h0M871.6 1010.0h0M365.5 825.7h0M354.3 838.1h0M354.3 849.7h0M306.8 858.6h0M313.4 861.3h0M335.2 869.3h0M338.5 874.6h0M310.1 884.4h0M301.7 889.8h0M355.7 883.5h0M365.5 914.7h0M360.3 919.2h0M216.1 926.3h0M299.9 950.3h0M310.1 947.6h0M317.1 957.4h0M356.6 951.2h0M185.0 961.9h0M341.7 962.8h0M247.8 968.1h0M184.0 985.9h0M176.1 993.1h0M238.0 980.6h0M254.7 993.1h0M220.8 977.9h0M172.9 1031.3h0M144.5 1066.1h0M160.8 1059.8h0M171.0 1030.5h0M173.3 1016.2h0M222.2 940.5h0M210.1 1011.8h0M224.0 1002.8h0M261.3 1011.8h0M275.2 1020.7h0M200.8 1029.6h0M233.3 1020.7h0M151.9 1083.0h0M163.6 1069.6h0M171.5 1315.4h0M236.1 1253.1h0M329.2 1232.6h0M329.2 1182.7h0M304.1 1155.1h0M198.5 1216.5h0M242.6 1213.0h0M182.6 1288.7h0M189.6 1286.0h0M176.6 1261.1h0M205.4 1225.4h0M265.9 1216.5h0M193.8 1247.7h0M365.9 900.5h0M361.3 936.1h0M303.1 976.1h0M321.7 985.0h0M345.0 976.1h0" stroke="#ff2414" stroke-width="6.2" stroke-linecap="round" fill="none"/>
<polygon points="136.58,1290.28 137.98,1276.92 140.3,1254.66 142.63,1236.85 143.56,1201.24 144.03,1183.43 144.96,1162.95 147.28,1161.28 151.93,1157.94 156.12,1154.94 158.91,1146.92 163.56,1133.57 168.22,1129.56 172.87,1125.55 177.52,1124.5 180.78,1123.77 182.17,1123.2 187.29,1121.1 196.13,1110.42 203.11,1085.48 218.92,1079.25 226.37,1077.87 233.34,1076.58 240.32,1078.75 244.97,1080.19 250.56,1081.92 251.02,1081.98 258.93,1082.89 265.91,1083.7 275.21,1090.83 284.52,1103.29 289.17,1118.13 289.17,1173.68 284.52,1194.46 275.21,1180.21 265.91,1182.88 258.93,1205.14 251.02,1205.14 250.56,1203.77 244.97,1187.33 240.32,1180.21 233.34,1194.46 226.37,1192.67 218.92,1172.2 203.11,1172.2 196.13,1174.87 187.29,1185.55 182.17,1206.92 180.78,1211.19 177.52,1221.17 172.87,1224.28 168.22,1227.4 163.56,1232.3 158.91,1237.19 156.12,1240.4 151.93,1245.21 147.28,1267.47 144.96,1284.16 144.03,1290.84 143.56,1294.18 142.63,1300.54 140.3,1316.44 137.98,1314.21 136.58,1312.88" fill="#140a8c" stroke="none" stroke-width="1" />
<polygon points="298.47,1112.74 303.12,1115.36 312.43,1120.6 314.75,1121.71 321.73,1125.05 324.99,1126.3 333.36,1129.5 340.34,1132.18 344.99,1133.96 351.97,1125.05 361.27,1117.42 366.39,1113.22 366.39,1144.5 361.27,1147.76 351.97,1152.22 344.99,1153.28 340.34,1154 333.36,1151.16 324.99,1147.76 321.73,1147.76 314.75,1147.76 312.43,1147.76 303.12,1147.76 298.47,1138.22" fill="#140a8c" stroke="none" stroke-width="1" />
<polygon points="298.47,1060.05 300.8,1056.49 307.78,1076.08 311.5,1090.33 311.5,1134.41 307.78,1134.41 300.8,1134.41 298.47,1134.41" fill="#140a8c" stroke="none" stroke-width="1" />
<polygon points="326.38,1058.27 328.71,1049.37 333.83,1068.96 333.83,1143.31 328.71,1143.31 326.38,1143.31" fill="#140a8c" stroke="none" stroke-width="1" />
<polygon points="356.62,1068.18 358.95,1050.37 363.6,1019.2 366.86,1032.19 366.86,1142.31 363.6,1142.31 358.95,1142.31 356.62,1142.31" fill="#140a8c" stroke="none" stroke-width="1" />
<polygon points="531.07,1160.67 535.72,1147.31 545.03,1147.31 548.28,1159.78 548.28,1223.45 545.03,1223.45 535.72,1223.45 531.07,1223.45" fill="#140a8c" stroke="none" stroke-width="1" />
<polygon points="862.29,1107.13 866.02,1101.9 878.11,1124.33 878.11,1183.38 866.02,1183.38 862.29,1183.38" fill="#140a8c" stroke="none" stroke-width="1" />
<path d="M187.9 1170.4h0M227.9 1096.6h0M249.4 1080.8h0M191.4 1110.6h0M175.8 1222.4h0M220.6 1144.4h0M281.8 1110.7h0M139.6 1295.5h0M192.8 1142.6h0M236.9 1179.2h0M243.6 1149.3h0M288.2 1129.1h0M284.7 1110.2h0M215.8 1078.4h0M264.3 1142.1h0M167.9 1143.0h0M225.5 1173.2h0M163.8 1190.6h0M136.5 1312.4h0M176.7 1140.8h0M163.0 1233.7h0M191.6 1181.1h0M226.7 1078.0h0M243.2 1176.0h0M287.5 1159.9h0M160.9 1196.7h0M259.8 1184.9h0M207.0 1090.4h0M240.1 1145.4h0M251.5 1147.4h0M230.3 1145.6h0M221.9 1087.1h0M185.7 1173.4h0M175.2 1154.7h0M279.6 1147.9h0M167.8 1195.1h0M183.2 1163.3h0M279.6 1125.2h0M142.8 1279.9h0M234.1 1171.1h0M283.1 1160.9h0M177.3 1144.7h0M185.3 1128.3h0M182.3 1154.9h0M255.2 1157.7h0M205.4 1082.7h0M249.6 1116.4h0M263.5 1116.5h0M177.1 1130.1h0M190.8 1163.3h0M276.1 1105.8h0M153.9 1178.1h0M258.4 1192.3h0M265.2 1099.0h0M268.0 1172.5h0M287.7 1151.6h0M225.9 1075.0h0M284.5 1188.3h0M186.4 1167.7h0M204.1 1162.9h0M244.3 1130.0h0M199.2 1113.8h0M183.6 1131.5h0M199.3 1132.0h0M185.4 1191.9h0M249.1 1127.1h0M263.4 1125.0h0M198.0 1159.2h0M233.8 1083.0h0M214.2 1170.1h0M209.2 1088.1h0M226.2 1101.0h0M287.4 1125.2h0M170.5 1160.7h0M212.2 1175.0h0M167.7 1230.8h0M185.5 1163.1h0M139.0 1271.7h0M137.4 1308.4h0M168.1 1145.7h0M213.9 1121.5h0M230.4 1113.4h0M196.0 1175.0h0M270.7 1094.0h0M163.1 1202.2h0M260.7 1101.7h0M175.9 1165.3h0M195.1 1171.3h0M156.2 1215.2h0M216.9 1091.2h0M218.5 1158.6h0M149.0 1227.8h0M148.7 1235.9h0M139.1 1312.2h0M148.6 1183.3h0M218.5 1141.3h0M202.7 1126.7h0M254.3 1137.6h0M283.9 1102.1h0M223.8 1140.1h0M169.2 1155.4h0M248.2 1108.3h0M258.8 1172.3h0M280.8 1148.9h0M208.4 1125.1h0M211.1 1168.9h0M188.8 1150.2h0M154.5 1239.7h0M178.8 1185.3h0M212.5 1098.9h0M167.1 1192.8h0M282.8 1153.3h0M235.3 1122.1h0M140.5 1244.4h0M145.5 1190.2h0M179.3 1129.8h0M273.6 1162.8h0M287.5 1178.0h0M148.0 1221.2h0M258.9 1192.2h0M262.3 1142.8h0M175.5 1209.4h0M159.8 1149.1h0M158.9 1193.2h0M176.5 1129.1h0M231.1 1091.2h0M144.2 1201.3h0M156.3 1193.8h0M208.3 1160.4h0M185.6 1133.1h0M287.0 1178.1h0M176.0 1148.4h0M214.8 1081.2h0M150.7 1205.1h0M164.9 1204.6h0M230.2 1183.7h0M279.1 1166.2h0M144.3 1289.6h0M285.7 1160.4h0M216.5 1123.3h0M205.5 1143.2h0M155.3 1235.1h0M235.9 1077.8h0M155.3 1170.9h0M289.9 1140.4h0M154.8 1186.5h0M138.4 1315.9h0M178.0 1136.8h0M274.1 1129.3h0M229.7 1120.5h0M153.4 1225.1h0M152.9 1222.8h0M190.5 1116.2h0M222.5 1092.6h0M224.7 1076.7h0M224.3 1155.8h0M138.8 1290.9h0M262.0 1141.8h0M174.9 1172.6h0M253.5 1144.3h0M265.6 1091.3h0M148.8 1200.6h0M239.4 1147.7h0M161.1 1200.4h0M226.4 1183.2h0M139.1 1270.5h0M220.4 1085.1h0M180.4 1172.7h0M136.9 1307.2h0M215.9 1128.3h0M149.2 1254.8h0M237.5 1132.9h0M265.2 1124.2h0M276.1 1132.8h0M277.5 1104.3h0M149.9 1210.9h0M158.2 1158.8h0M147.1 1212.6h0M270.5 1173.3h0M187.0 1178.0h0M238.5 1114.6h0M145.7 1172.2h0M211.7 1166.4h0M288.5 1143.4h0M186.1 1142.6h0M178.4 1178.4h0M160.2 1190.4h0M177.8 1126.3h0M181.4 1198.1h0M255.4 1200.3h0M209.8 1111.7h0M242.6 1174.6h0M223.3 1129.5h0M196.1 1140.2h0M143.3 1237.3h0M160.1 1155.7h0M236.3 1120.0h0M264.7 1129.0h0M175.1 1183.3h0M269.8 1116.2h0M270.7 1178.0h0M218.4 1126.7h0M241.1 1146.9h0M285.1 1168.0h0M189.2 1177.8h0M253.2 1163.2h0M144.4 1194.1h0M281.8 1132.7h0M231.1 1130.7h0M186.6 1189.8h0M238.7 1181.9h0M192.7 1149.2h0M232.5 1187.8h0M162.0 1163.5h0M257.6 1085.9h0M262.1 1101.9h0M162.8 1201.3h0M256.8 1170.6h0M147.6 1243.0h0M192.0 1155.3h0M231.0 1143.5h0M178.3 1168.3h0M158.9 1191.0h0M146.4 1169.8h0M143.5 1246.8h0M200.2 1111.6h0M197.6 1139.4h0M164.6 1218.9h0M246.8 1190.9h0M278.2 1160.1h0M217.8 1146.4h0M244.1 1157.8h0M246.4 1119.0h0M153.6 1233.1h0M238.6 1148.9h0M174.8 1208.2h0M225.7 1161.4h0M201.6 1120.4h0M151.1 1219.4h0M234.8 1182.2h0M192.9 1154.6h0M168.0 1215.5h0M284.9 1101.3h0M266.9 1186.9h0M270.0 1122.3h0M200.8 1162.5h0M153.2 1164.3h0M181.1 1161.1h0M167.5 1163.0h0M146.8 1212.4h0M166.8 1213.2h0M172.2 1161.9h0M246.0 1135.1h0M280.1 1153.8h0M214.8 1169.7h0M190.4 1167.5h0M264.7 1145.8h0M166.9 1227.3h0M223.7 1184.4h0M238.1 1119.5h0M217.5 1173.1h0M268.7 1179.6h0M170.6 1187.7h0M170.5 1157.6h0M231.9 1109.4h0M242.6 1140.4h0M253.6 1132.9h0M284.4 1109.2h0M241.0 1092.5h0M196.3 1118.7h0M271.7 1180.9h0M152.7 1172.1h0M170.8 1213.0h0M197.2 1128.0h0M213.4 1123.0h0M241.6 1171.8h0M253.1 1138.5h0M151.7 1200.9h0M164.7 1155.4h0M267.7 1166.6h0M247.4 1146.6h0M196.6 1148.7h0M244.3 1148.2h0M137.7 1277.4h0M284.3 1176.2h0M159.4 1156.6h0M178.3 1171.7h0M275.5 1142.2h0M153.3 1198.0h0M220.5 1146.2h0M276.4 1127.3h0M245.3 1099.0h0M180.5 1171.6h0M250.5 1110.6h0M192.6 1146.9h0M162.5 1152.4h0M265.4 1085.1h0M142.0 1243.4h0M253.5 1186.9h0M156.1 1212.0h0M187.1 1134.3h0M267.7 1166.6h0M223.5 1128.8h0M169.4 1207.9h0M254.5 1134.1h0M266.1 1132.2h0M243.1 1141.4h0M157.7 1212.9h0M233.2 1129.1h0M209.6 1129.4h0M214.1 1149.3h0M168.5 1205.9h0M271.5 1112.7h0M137.2 1281.5h0M215.7 1126.1h0M277.7 1126.1h0M271.9 1152.2h0M272.3 1176.2h0M257.7 1120.1h0M260.9 1080.9h0M248.4 1120.3h0M214.2 1155.7h0M266.0 1112.0h0M225.3 1113.8h0M285.1 1174.6h0M177.0 1140.9h0M258.9 1099.2h0M194.4 1149.1h0M241.7 1171.9h0M152.4 1173.6h0M240.4 1161.8h0M218.0 1165.9h0M225.3 1112.2h0M185.7 1138.0h0M173.5 1177.4h0M205.7 1162.0h0M251.0 1106.9h0M287.0 1140.3h0M175.8 1127.8h0M185.7 1146.3h0M164.0 1130.5h0M265.7 1173.1h0M256.6 1122.2h0M176.7 1162.5h0M219.5 1116.6h0M179.8 1203.7h0M276.5 1176.1h0M269.9 1085.8h0M146.2 1247.3h0M175.0 1176.2h0M155.5 1214.3h0M152.2 1173.7h0M259.5 1099.3h0M264.5 1187.8h0M170.2 1133.8h0M151.5 1191.9h0M239.0 1159.2h0M269.8 1120.2h0M145.7 1173.0h0M227.1 1135.1h0M178.9 1169.1h0M216.2 1089.7h0M213.5 1118.1h0M215.4 1107.7h0M257.4 1121.4h0M183.7 1171.7h0M288.8 1133.4h0M276.9 1170.9h0M194.2 1118.4h0M157.6 1164.7h0M209.1 1105.4h0M254.1 1185.3h0M167.5 1197.0h0M155.8 1183.5h0M243.4 1149.6h0M252.0 1095.9h0M244.6 1170.9h0M220.4 1174.8h0M286.8 1174.1h0M286.2 1125.2h0M164.9 1209.8h0M149.5 1245.5h0M258.2 1171.1h0M157.9 1205.1h0M257.8 1137.5h0M142.4 1295.4h0M253.6 1182.8h0M267.9 1113.9h0M142.0 1276.5h0M246.9 1115.5h0M236.4 1111.2h0M273.0 1148.4h0M277.1 1126.1h0M210.7 1171.3h0M187.9 1160.9h0M249.5 1094.6h0M155.4 1195.3h0M196.9 1165.9h0M237.6 1151.1h0M197.6 1106.8h0M225.8 1105.9h0M225.7 1123.1h0M244.4 1107.6h0M209.8 1100.3h0M151.1 1179.7h0M217.2 1168.1h0M268.1 1176.5h0M154.9 1163.4h0M168.5 1215.8h0M242.9 1084.0h0M202.8 1117.5h0M139.8 1310.0h0M182.0 1162.5h0M152.8 1184.5h0M210.1 1139.6h0M161.7 1226.0h0M255.0 1193.1h0M286.1 1130.5h0M202.5 1127.1h0M150.9 1214.8h0M214.6 1101.0h0M195.2 1130.7h0M139.0 1308.7h0M250.1 1201.1h0M281.2 1101.8h0M281.1 1148.6h0M256.4 1124.5h0M147.9 1206.5h0M164.4 1175.6h0M261.9 1084.5h0M200.8 1136.9h0M179.9 1201.2h0M272.5 1127.1h0M245.7 1141.9h0M185.3 1134.2h0M185.9 1156.9h0M291.3 1154.1h0M217.6 1121.4h0M212.0 1101.9h0M243.8 1127.4h0M146.6 1259.1h0M158.1 1202.5h0M169.9 1203.8h0M137.3 1284.4h0M200.3 1175.4h0M186.8 1119.9h0M259.9 1105.5h0M266.0 1173.3h0M213.8 1131.0h0M199.8 1138.9h0M216.2 1158.3h0M166.3 1183.2h0M176.1 1145.1h0M138.4 1306.7h0M153.7 1184.1h0M259.6 1197.3h0M154.8 1221.0h0M158.1 1217.8h0M254.7 1146.6h0M168.4 1205.2h0M227.9 1132.0h0M184.8 1146.0h0M211.0 1160.5h0M266.4 1115.9h0M228.1 1077.4h0M153.9 1163.4h0M281.0 1126.4h0M251.0 1131.5h0M251.3 1149.8h0M177.8 1196.5h0M250.4 1103.3h0M203.0 1140.8h0M182.0 1146.6h0M240.2 1103.4h0M246.9 1156.0h0M157.1 1156.4h0M193.5 1142.8h0M145.1 1204.4h0M197.6 1114.6h0M138.3 1288.5h0M219.3 1174.9h0M271.9 1175.9h0M217.7 1090.7h0M242.3 1086.7h0M185.9 1123.2h0M250.9 1157.4h0M143.7 1217.7h0M188.7 1143.3h0M240.3 1087.7h0M210.5 1096.0h0M198.0 1133.1h0M213.4 1104.8h0M197.6 1139.8h0M227.2 1140.3h0M188.5 1142.9h0M177.4 1164.8h0M252.8 1128.5h0M211.4 1102.5h0M267.0 1161.3h0M262.1 1144.0h0M193.0 1163.4h0M145.2 1257.3h0M179.8 1161.0h0M287.5 1174.9h0M203.7 1146.8h0M147.7 1268.8h0M155.8 1203.8h0M283.9 1105.1h0M157.9 1185.6h0M158.8 1224.8h0M253.4 1198.9h0M249.5 1104.7h0M248.4 1078.5h0M187.6 1132.1h0M169.3 1126.2h0M185.0 1142.4h0M266.3 1144.7h0M285.1 1124.2h0M276.8 1095.8h0M137.2 1298.0h0M288.2 1116.8h0M144.9 1149.3h0M195.4 1107.2h0M241.2 1084.3h0M214.2 1070.2h0M254.2 1074.4h0M212.6 1088.1h0M215.1 1081.9h0M212.3 1088.0h0M250.4 1078.5h0M191.7 1112.4h0M241.3 1081.7h0M197.9 1091.2h0M256.6 1087.6h0M198.5 1102.9h0M231.2 1069.9h0M147.6 1170.3h0M152.0 1158.8h0M273.2 1103.5h0M248.6 1087.0h0M248.0 1078.5h0M159.9 1147.1h0M267.9 1076.6h0M174.5 1128.6h0M215.8 1083.0h0M214.4 1079.0h0M209.7 1072.9h0M285.7 1105.5h0M275.7 1085.0h0M198.5 1091.3h0M230.2 1082.8h0M186.7 1122.2h0M242.0 1083.1h0M215.0 1071.5h0M236.9 1070.9h0M143.3 1207.6h0M273.9 1094.9h0M264.3 1082.2h0M273.1 1098.6h0M199.8 1084.3h0M249.1 1076.5h0M204.2 1087.0h0M196.3 1110.2h0M266.9 1077.3h0M151.5 1146.3h0M224.6 1076.3h0M236.7 1077.9h0M270.7 1076.2h0M198.6 1102.9h0M179.4 1121.6h0M267.5 1086.1h0M236.5 1079.6h0M169.8 1120.7h0M226.9 1075.2h0M169.7 1130.4h0M181.1 1122.4h0M251.1 1085.1h0M252.5 1072.9h0M197.7 1092.4h0M223.4 1073.9h0M227.6 1077.8h0M275.6 1095.0h0M143.9 1177.9h0M202.3 1087.3h0M275.6 1083.1h0M144.0 1185.0h0M234.0 1080.2h0M264.3 1077.4h0M161.9 1133.1h0M179.5 1125.4h0M148.1 1154.9h0M220.1 1073.9h0M280.4 1093.1h0M197.3 1099.9h0M236.4 1079.9h0M164.7 1123.8h0M149.0 1165.0h0M162.2 1139.0h0M149.7 1158.0h0M278.3 1094.1h0M243.8 1074.4h0M150.8 1151.6h0M155.5 1159.4h0M275.9 1080.5h0M253.0 1084.3h0M217.5 1082.7h0M238.8 1081.1h0M265.3 1081.0h0M186.7 1125.5h0M283.9 1095.5h0M193.1 1116.5h0M173.4 1120.7h0M194.6 1108.9h0M212.6 1082.6h0M184.3 1128.0h0M159.6 1146.9h0M213.9 1075.8h0M241.9 1069.6h0M175.0 1122.0h0M190.7 1109.9h0M273.4 1080.3h0M200.4 1099.5h0M209.6 1078.6h0M282.0 1091.7h0M156.0 1155.3h0M266.5 1079.5h0M186.8 1120.5h0M243.8 1077.2h0M218.0 1074.4h0M251.7 1087.7h0M181.1 1121.2h0M149.8 1149.7h0M279.9 1095.8h0M195.6 1114.7h0M154.0 1162.6h0M159.9 1144.8h0M157.1 1151.9h0M258.6 1085.9h0M202.9 1072.8h0M189.7 1116.9h0M221.3 1081.3h0M262.5 1083.8h0M246.0 1076.3h0M216.6 1081.4h0M222.3 1077.0h0M261.7 1081.2h0M208.3 1075.3h0M224.2 1067.0h0M251.1 1080.0h0M276.6 1097.6h0M150.8 1157.8h0M235.9 1072.1h0M174.8 1119.8h0M168.2 1126.6h0M221.8 1082.0h0M144.4 1170.6h0M220.0 1076.6h0M150.9 1153.8h0M164.7 1132.7h0M210.6 1078.2h0M166.6 1129.5h0M190.1 1126.1h0M153.2 1152.4h0M237.9 1076.0h0M253.5 1090.9h0M164.2 1129.3h0M248.2 1069.2h0M267.1 1088.4h0M206.6 1092.0h0M198.3 1101.0h0M180.0 1117.9h0M163.2 1131.3h0M278.8 1095.0h0M285.4 1099.1h0M243.9 1079.7h0M196.2 1106.8h0M185.3 1114.1h0M285.2 1104.7h0M182.2 1109.7h0M153.6 1150.9h0M256.8 1211.8h0M263.9 1194.8h0M202.1 1167.2h0M280.6 1191.8h0M278.6 1194.7h0M247.7 1191.1h0M236.5 1181.0h0M252.8 1206.3h0M166.1 1230.2h0M219.6 1175.3h0M152.8 1243.0h0M288.5 1184.5h0M248.6 1204.0h0M201.7 1173.5h0M229.2 1187.4h0M186.1 1203.0h0M140.2 1323.7h0M235.4 1201.0h0M259.1 1203.7h0M261.9 1206.1h0M155.7 1234.7h0M151.0 1255.3h0M162.3 1239.5h0M279.6 1193.5h0M179.1 1226.0h0M280.0 1189.4h0M182.9 1198.4h0M223.4 1193.3h0M280.9 1183.8h0M219.8 1184.1h0M143.3 1297.0h0M154.4 1236.0h0M234.7 1197.7h0M262.1 1192.4h0M264.9 1188.8h0M218.4 1181.5h0M287.0 1178.4h0M148.6 1267.4h0M274.2 1180.0h0M237.1 1188.3h0M166.5 1231.4h0M161.8 1246.1h0M275.2 1173.6h0M286.4 1188.4h0M258.8 1219.1h0M279.8 1187.7h0M242.8 1181.3h0M244.0 1185.3h0M192.4 1178.4h0M158.1 1234.7h0M209.0 1166.5h0M169.1 1223.5h0M279.4 1182.2h0M234.8 1188.6h0M166.9 1236.7h0M230.5 1201.9h0M164.8 1245.2h0M230.9 1194.6h0M173.8 1232.6h0M144.7 1277.6h0M209.5 1181.3h0M137.0 1316.3h0M152.8 1242.9h0M181.1 1218.5h0M205.5 1172.3h0M263.0 1193.7h0M252.5 1205.9h0M148.3 1260.0h0M185.1 1207.6h0M213.8 1176.1h0M265.9 1177.3h0M143.2 1299.2h0M157.1 1243.3h0M273.8 1186.0h0M144.9 1268.0h0M198.6 1169.4h0M221.3 1183.8h0M187.8 1189.2h0M192.9 1182.1h0M242.6 1197.0h0M164.2 1247.6h0M163.2 1231.8h0M189.8 1200.2h0M140.4 1331.5h0M242.0 1192.8h0M264.8 1187.0h0M151.2 1255.6h0M251.8 1210.8h0M245.6 1194.8h0M253.3 1205.8h0M243.5 1197.1h0M281.4 1196.2h0M173.9 1230.3h0M177.2 1234.4h0M274.4 1189.0h0M225.4 1178.3h0M285.0 1186.6h0M193.1 1188.2h0M206.5 1184.3h0M200.1 1181.7h0M273.7 1181.6h0M158.7 1232.5h0M162.6 1236.3h0M223.5 1185.5h0M231.2 1205.2h0M219.9 1170.5h0M240.9 1178.7h0M139.8 1315.6h0M161.0 1235.5h0M227.5 1198.2h0M194.2 1185.6h0M263.2 1205.3h0M283.8 1189.7h0M287.3 1185.7h0M252.9 1208.6h0M216.5 1169.2h0M265.6 1175.8h0M238.9 1178.0h0M227.1 1200.4h0M198.5 1173.1h0M347.6 1141.7h0M303.3 1148.3h0M355.0 1139.9h0M327.4 1135.4h0M317.2 1123.8h0M325.4 1138.8h0M322.1 1137.1h0M350.8 1140.0h0M336.8 1149.4h0M322.9 1144.8h0M360.7 1146.0h0M326.4 1133.8h0M301.6 1138.0h0M350.2 1143.8h0M337.6 1131.8h0M344.9 1133.0h0M303.9 1127.9h0M317.8 1145.5h0M347.4 1131.0h0M354.4 1144.0h0M328.6 1151.5h0M329.9 1128.3h0M366.3 1146.5h0M301.0 1116.8h0M315.5 1138.6h0M308.7 1127.4h0M366.4 1143.4h0M323.0 1136.7h0M337.7 1139.5h0M328.6 1127.7h0M301.9 1133.7h0M325.6 1133.7h0M344.5 1153.1h0M314.9 1134.7h0M325.6 1140.5h0M367.5 1133.6h0M358.5 1138.3h0M336.0 1146.7h0M364.4 1128.4h0M363.7 1123.6h0M341.4 1151.5h0M343.1 1147.3h0M319.7 1121.2h0M355.5 1130.2h0M360.7 1126.9h0M300.3 1114.2h0M330.7 1131.3h0M314.0 1132.2h0M361.0 1136.0h0M356.3 1136.8h0M304.2 1149.6h0M319.2 1136.4h0M343.2 1139.9h0M317.7 1147.3h0M298.6 1117.8h0M355.8 1127.3h0M357.0 1130.2h0M355.1 1135.9h0M329.8 1146.0h0M342.5 1155.9h0M305.6 1131.4h0M320.2 1148.9h0M339.6 1141.9h0M366.7 1119.8h0M347.9 1143.6h0M325.2 1126.3h0M348.3 1150.4h0M360.9 1146.0h0M314.2 1137.4h0M349.6 1135.3h0M338.2 1152.2h0M362.7 1118.9h0M334.0 1146.0h0M343.5 1140.3h0M363.6 1137.3h0M351.9 1127.2h0M307.1 1133.2h0M353.4 1145.8h0M317.1 1126.8h0M315.7 1137.9h0M356.0 1121.8h0M298.4 1126.3h0M365.2 1111.9h0M324.5 1149.0h0M317.8 1144.2h0M342.4 1153.1h0M353.4 1139.9h0M318.5 1136.9h0M334.8 1138.1h0M325.7 1128.9h0M337.4 1137.2h0M323.9 1141.3h0M334.1 1140.9h0M307.0 1125.0h0M333.5 1127.7h0M321.3 1137.3h0M348.2 1127.3h0M349.1 1140.0h0M362.8 1113.6h0M304.5 1129.2h0M352.0 1145.6h0M340.6 1135.8h0M333.8 1148.0h0M350.2 1149.7h0M342.2 1144.6h0M323.5 1135.1h0M342.8 1149.5h0M367.2 1126.8h0M311.5 1126.3h0M346.0 1135.8h0M364.3 1115.5h0M368.0 1133.9h0M331.8 1149.9h0M297.0 1122.2h0M315.2 1135.6h0M358.1 1140.4h0M323.6 1136.2h0M360.0 1121.5h0M313.8 1148.9h0M335.6 1144.1h0M340.9 1146.1h0M309.9 1122.9h0M329.8 1147.0h0M322.8 1135.4h0M307.9 1124.4h0M359.2 1146.0h0M338.3 1134.8h0M346.3 1134.1h0M303.7 1139.8h0M361.5 1121.0h0M326.7 1129.8h0M297.6 1123.9h0M315.7 1132.0h0M359.7 1137.4h0M317.5 1145.9h0M315.8 1140.9h0M322.0 1134.9h0M337.5 1146.7h0M299.4 1139.3h0M334.7 1137.8h0M341.2 1137.0h0M363.6 1127.2h0M326.6 1146.9h0M351.8 1125.0h0M322.5 1149.7h0M353.1 1147.1h0M310.0 1122.1h0M334.2 1135.3h0M299.8 1139.3h0M339.8 1132.1h0M334.5 1145.3h0M359.5 1140.0h0M317.0 1123.9h0M310.2 1126.5h0M304.6 1129.5h0M344.8 1155.8h0M358.9 1148.8h0M356.6 1142.0h0M360.0 1146.6h0M347.3 1131.5h0M312.3 1122.6h0M300.4 1103.9h0M312.1 1117.2h0M301.2 1067.3h0M310.4 1106.7h0M300.1 1070.9h0M300.9 1061.6h0M312.0 1098.9h0M298.4 1122.5h0M306.7 1116.8h0M303.7 1136.2h0M297.8 1094.0h0M307.5 1103.1h0M314.8 1102.4h0M302.0 1095.7h0M298.8 1118.5h0M314.3 1123.1h0M310.9 1131.8h0M309.9 1119.2h0M312.9 1114.0h0M308.9 1097.1h0M309.0 1116.3h0M306.0 1125.5h0M303.7 1104.8h0M305.0 1109.2h0M305.4 1101.7h0M300.2 1129.3h0M304.5 1094.9h0M303.4 1092.1h0M307.9 1129.0h0M309.5 1115.9h0M313.6 1133.0h0M296.7 1105.2h0M310.0 1084.5h0M300.2 1136.8h0M311.9 1133.1h0M306.9 1110.4h0M301.0 1086.6h0M310.5 1136.9h0M306.8 1088.6h0M301.1 1088.3h0M305.4 1095.9h0M303.3 1088.8h0M303.0 1097.2h0M306.4 1116.6h0M303.9 1105.5h0M306.0 1128.9h0M300.6 1116.5h0M307.5 1111.0h0M296.0 1132.2h0M308.7 1110.6h0M307.5 1088.8h0M301.5 1079.0h0M312.3 1118.3h0M312.4 1103.9h0M304.7 1100.7h0M306.5 1118.6h0M313.4 1104.1h0M307.8 1133.6h0M304.9 1120.9h0M306.0 1067.1h0M299.0 1048.7h0M308.7 1058.7h0M303.2 1052.6h0M311.5 1064.4h0M311.9 1074.3h0M301.0 1051.2h0M301.7 1053.5h0M311.4 1067.0h0M307.2 1064.9h0M326.4 1114.6h0M327.5 1123.1h0M335.1 1088.0h0M333.8 1082.5h0M330.9 1145.1h0M331.3 1106.6h0M328.0 1136.3h0M329.5 1070.5h0M334.6 1068.5h0M329.3 1070.7h0M330.8 1136.9h0M328.7 1118.2h0M327.9 1076.9h0M330.0 1076.3h0M331.6 1105.6h0M327.7 1116.0h0M334.8 1095.4h0M333.0 1090.3h0M329.4 1118.5h0M329.6 1107.4h0M334.5 1123.5h0M331.7 1094.6h0M330.4 1058.5h0M334.2 1098.8h0M326.2 1128.5h0M333.0 1128.2h0M333.0 1097.8h0M326.4 1126.1h0M323.8 1113.0h0M329.3 1105.9h0M329.4 1107.7h0M330.0 1085.0h0M325.7 1093.1h0M333.0 1112.7h0M326.6 1089.4h0M335.0 1079.7h0M331.3 1117.7h0M329.5 1104.1h0M329.8 1117.9h0M331.5 1100.9h0M329.0 1050.2h0M330.3 1082.8h0M328.3 1121.2h0M327.0 1093.1h0M333.7 1101.1h0M368.4 1116.3h0M354.3 1105.7h0M353.4 1140.3h0M359.8 1044.6h0M363.6 1096.5h0M355.8 1123.2h0M366.0 1101.1h0M365.0 1124.7h0M366.8 1105.7h0M352.3 1126.2h0M369.2 1056.6h0M358.9 1063.9h0M353.3 1117.4h0M363.0 1047.6h0M365.7 1080.6h0M368.1 1115.4h0M366.6 1053.1h0M351.9 1142.8h0M354.6 1142.3h0M353.3 1141.1h0M361.8 1068.6h0M358.3 1094.6h0M352.2 1104.9h0M355.1 1115.3h0M366.0 1042.2h0M361.3 1105.7h0M368.7 1138.7h0M362.1 1112.7h0M357.6 1107.1h0M366.9 1136.5h0M353.0 1100.9h0M359.2 1085.8h0M360.9 1062.3h0M363.1 1129.2h0M353.3 1107.6h0M357.4 1132.1h0M363.5 1068.9h0M353.2 1126.1h0M358.8 1056.9h0M367.2 1064.4h0M364.5 1126.3h0M366.9 1135.8h0M353.3 1137.1h0M356.6 1078.6h0M364.5 1093.0h0M363.5 1114.9h0M356.9 1121.0h0M351.9 1131.1h0M368.8 1144.2h0M353.6 1135.6h0M369.3 1104.7h0M353.0 1098.0h0M353.5 1089.5h0M355.2 1111.0h0M369.1 1087.3h0M365.1 1070.0h0M359.9 1060.9h0M366.4 1069.2h0M365.2 1094.8h0M354.8 1091.2h0M361.8 1125.5h0M352.2 1130.3h0M357.8 1095.8h0M360.0 1128.3h0M358.4 1100.3h0M359.5 1136.1h0M362.0 1129.7h0M354.0 1144.6h0M357.0 1135.3h0M362.8 1041.6h0M357.6 1072.7h0M363.7 1127.5h0M360.3 1074.6h0M353.6 1121.6h0M361.7 1050.3h0M368.5 1063.8h0M355.5 1088.3h0M365.7 1105.5h0M353.8 1116.6h0M363.1 1064.9h0M368.0 1064.4h0M363.1 1032.8h0M352.4 1143.0h0M357.5 1125.6h0M365.1 1129.6h0M365.3 1113.7h0M356.1 1117.2h0M352.2 1125.6h0M356.2 1071.9h0M367.6 1039.6h0M541.0 1183.8h0M550.7 1214.0h0M538.3 1158.0h0M541.4 1148.7h0M542.9 1152.4h0M547.9 1164.3h0M542.8 1181.7h0M550.5 1168.1h0M534.3 1163.0h0M533.3 1200.8h0M541.5 1203.2h0M544.0 1204.7h0M544.0 1222.9h0M549.5 1176.7h0M537.6 1208.9h0M536.3 1219.5h0M534.4 1222.5h0M534.4 1150.5h0M544.6 1173.7h0M546.5 1157.9h0M531.1 1208.6h0M535.7 1184.8h0M546.8 1201.9h0M546.8 1169.6h0M543.5 1222.8h0M532.2 1161.2h0M529.4 1212.2h0M532.7 1220.3h0M546.1 1189.7h0M549.4 1214.4h0M535.7 1150.9h0M534.2 1170.9h0M544.8 1159.3h0M533.0 1168.4h0M546.4 1207.9h0M536.4 1178.2h0M533.2 1192.7h0M543.5 1193.4h0M542.6 1158.6h0M543.7 1162.5h0M540.4 1212.7h0M531.0 1199.8h0M547.6 1205.2h0M533.0 1183.1h0M533.7 1210.4h0M546.5 1160.5h0M528.9 1173.0h0M543.9 1183.2h0M531.4 1177.4h0M533.6 1187.1h0M540.1 1204.7h0M545.6 1214.9h0M542.0 1197.3h0M550.0 1207.8h0M546.6 1180.6h0M548.4 1201.7h0M534.7 1218.1h0M545.8 1191.0h0M547.5 1197.4h0M547.2 1155.9h0M547.0 1194.8h0M535.5 1204.6h0M543.1 1201.8h0M545.4 1170.5h0M539.9 1158.0h0M543.5 1212.1h0M528.5 1210.4h0M544.3 1155.8h0M534.1 1216.4h0M549.6 1189.8h0M548.7 1208.9h0M534.3 1214.8h0M541.3 1168.4h0M539.6 1193.6h0M532.2 1216.1h0M543.5 1174.2h0M548.4 1190.4h0M536.2 1147.3h0M531.4 1185.1h0M535.1 1193.7h0M547.9 1214.1h0M546.0 1196.5h0M541.9 1167.5h0M550.1 1179.1h0M535.8 1154.9h0M538.6 1192.2h0M532.2 1213.8h0M537.6 1188.7h0M538.8 1221.2h0M543.4 1149.2h0M528.4 1221.3h0M536.0 1214.3h0M538.4 1215.0h0M545.1 1153.6h0M535.3 1192.9h0M538.1 1219.8h0M528.7 1222.7h0M529.3 1216.9h0M550.9 1192.5h0M537.7 1222.1h0M543.6 1202.2h0M549.7 1209.4h0M533.0 1211.0h0M533.4 1208.4h0M533.7 1195.2h0M533.7 1205.6h0M530.6 1219.7h0M530.4 1194.7h0M535.0 1193.7h0M530.1 1215.8h0M535.7 1217.0h0M539.1 1169.9h0M545.8 1191.0h0M543.8 1196.2h0M531.7 1162.0h0M547.4 1208.7h0M534.4 1180.4h0M538.8 1147.9h0M544.3 1207.5h0M549.9 1189.2h0M548.7 1229.9h0M551.5 1233.9h0M548.0 1237.9h0M546.2 1241.9h0M550.1 1245.9h0M551.0 1249.9h0M546.8 1253.9h0M547.0 1257.9h0M551.1 1262.0h0M549.9 1266.0h0M546.1 1270.0h0M548.3 1274.0h0M551.5 1278.0h0M548.4 1282.0h0M546.0 1286.0h0M549.8 1290.0h0M540.4 1002.8h0M540.4 1121.3h0M538.0 1136.4h0M864.5 1104.7h0M865.8 1101.1h0M870.2 1119.8h0M866.1 1166.0h0M872.8 1122.1h0M879.4 1149.6h0M868.8 1129.7h0M871.7 1122.1h0M866.4 1129.0h0M864.6 1147.3h0M874.9 1185.1h0M872.0 1128.1h0M871.7 1139.9h0M867.1 1165.5h0M874.8 1147.8h0M874.1 1124.0h0M865.2 1177.5h0M874.6 1122.0h0M867.4 1174.2h0M870.1 1173.1h0M872.8 1142.1h0M875.1 1183.3h0M874.0 1182.1h0M863.0 1150.2h0M866.1 1127.1h0M868.5 1128.7h0M879.7 1137.8h0M874.2 1170.8h0M879.3 1168.8h0M880.0 1141.7h0M861.3 1184.8h0M863.7 1113.9h0M869.9 1156.4h0M870.4 1109.5h0M861.7 1150.1h0M861.6 1169.7h0M875.5 1117.1h0M877.7 1174.2h0M876.7 1181.5h0M863.3 1150.0h0M869.9 1142.8h0M866.8 1179.3h0M866.1 1103.0h0M871.9 1169.3h0M861.2 1119.4h0M873.7 1124.8h0M868.7 1169.4h0M860.1 1152.7h0M871.5 1115.2h0M874.9 1125.3h0M862.5 1109.9h0M862.8 1121.8h0M861.5 1156.8h0M879.1 1159.2h0M868.1 1163.6h0M874.8 1129.9h0M868.4 1171.8h0M871.5 1155.3h0M864.8 1150.2h0M878.2 1167.6h0M879.8 1177.3h0M869.6 1148.9h0M870.1 1148.7h0M867.0 1156.3h0M864.2 1141.2h0M870.8 1135.3h0M877.6 1143.7h0M875.8 1152.4h0M878.1 1163.2h0M863.2 1145.0h0M879.7 1172.4h0M879.7 1154.4h0M868.8 1165.4h0M871.3 1142.8h0M859.3 1171.4h0M865.1 1085.7h0M866.0 1074.1h0M877.6 1188.1h0M866.9 1189.8h0M880.0 1176.5h0M234.7 920.0h0M222.6 939.6h0M246.8 944.1h0M264.5 953.0h0M285.4 967.2h0M362.2 917.4h0M365.5 939.6h0M173.8 1010.0h0M220.3 985.0h0M219.4 987.7h0M220.8 993.1h0M238.0 1010.9h0M236.6 1017.1h0M240.3 1025.1h0M221.7 1020.7h0M220.3 1016.2h0M365.9 983.3h0M365.9 992.2h0M336.6 1011.8h0M314.8 1034.0h0M331.0 1034.0h0M298.5 1042.9h0M186.8 1069.6h0M193.8 1065.2h0M163.6 1091.9h0M175.2 1074.1h0M205.4 1047.4h0M252.0 1038.5h0M258.9 1047.4h0M275.2 1042.9h0M235.7 1282.4h0M198.0 1328.7h0M189.6 1321.6h0M182.6 1312.7h0M179.8 1307.4h0M177.1 1292.2h0M312.9 1236.1h0M312.9 1252.2h0M329.2 1254.8h0M329.2 1187.2h0M309.2 1194.3h0M308.2 1169.4h0M304.1 1164.9h0M362.2 1160.4h0M232.4 1210.3h0M242.6 1220.1h0M247.3 1224.6h0M266.8 1205.9h0M198.0 1270.0h0M177.5 1271.7h0M165.9 1287.8h0M186.8 1252.2h0M205.4 1212.1h0M226.4 1203.2h0M279.9 1207.6h0M282.2 1203.2h0M158.9 1261.1h0M151.9 1283.3h0" stroke="#140a8c" stroke-width="7" stroke-linecap="round" fill="none"/>
<line x1="330" y1="1140" x2="413" y2="1272" stroke="#140a8c" stroke-width="3.6" />
<line x1="776" y1="1200" x2="846" y2="1097" stroke="#ff2414" stroke-width="3.6" />
<polygon points="858,1081 840,1092 852,1101" fill="#ff2414" stroke="none" stroke-width="1" />
<text font-size="37.5" font-weight="bold" fill="#ff2414"><tspan x="601.6" y="1236">IFCs</tspan><tspan x="680.6" y="1221" font-size="26.5" font-weight="normal" font-style="italic">2nd</tspan><tspan x="681.6" y="1245.8" font-size="26.5" font-weight="normal" font-style="italic">T</tspan><tspan x="722.1" y="1236">+3,4ph_300 K</tspan></text>
<text font-size="37.5" font-weight="bold" fill="#140a8c"><tspan x="416.8" y="1306">IFCs</tspan><tspan x="495.8" y="1291" font-size="26.5" font-weight="normal" font-style="italic">2nd</tspan><tspan x="496.8" y="1315.8" font-size="26.5" font-weight="normal" font-style="italic">T</tspan><tspan x="537.3" y="1306">+3ph_300 K</tspan></text>
<line x1="154.26" y1="1385.7" x2="154.26" y2="1379.2" stroke="#000" stroke-width="2.8" />
<line x1="154.26" y1="761.6" x2="154.26" y2="768.1" stroke="#000" stroke-width="2.8" />
<line x1="177.52" y1="1385.7" x2="177.52" y2="1379.2" stroke="#000" stroke-width="2.8" />
<line x1="177.52" y1="761.6" x2="177.52" y2="768.1" stroke="#000" stroke-width="2.8" />
<line x1="200.78" y1="1385.7" x2="200.78" y2="1379.2" stroke="#000" stroke-width="2.8" />
<line x1="200.78" y1="761.6" x2="200.78" y2="768.1" stroke="#000" stroke-width="2.8" />
<line x1="224.04" y1="1385.7" x2="224.04" y2="1379.2" stroke="#000" stroke-width="2.8" />
<line x1="224.04" y1="761.6" x2="224.04" y2="768.1" stroke="#000" stroke-width="2.8" />
<line x1="247.3" y1="1385.7" x2="247.3" y2="1379.2" stroke="#000" stroke-width="2.8" />
<line x1="247.3" y1="761.6" x2="247.3" y2="768.1" stroke="#000" stroke-width="2.8" />
<line x1="270.56" y1="1385.7" x2="270.56" y2="1379.2" stroke="#000" stroke-width="2.8" />
<line x1="270.56" y1="761.6" x2="270.56" y2="768.1" stroke="#000" stroke-width="2.8" />
<line x1="293.82" y1="1385.7" x2="293.82" y2="1379.2" stroke="#000" stroke-width="2.8" />
<line x1="293.82" y1="761.6" x2="293.82" y2="768.1" stroke="#000" stroke-width="2.8" />
<line x1="317.08" y1="1385.7" x2="317.08" y2="1371.7" stroke="#000" stroke-width="3" />
<line x1="317.08" y1="761.6" x2="317.08" y2="775.6" stroke="#000" stroke-width="3" />
<line x1="340.34" y1="1385.7" x2="340.34" y2="1379.2" stroke="#000" stroke-width="2.8" />
<line x1="340.34" y1="761.6" x2="340.34" y2="768.1" stroke="#000" stroke-width="2.8" />
<line x1="363.6" y1="1385.7" x2="363.6" y2="1379.2" stroke="#000" stroke-width="2.8" />
<line x1="363.6" y1="761.6" x2="363.6" y2="768.1" stroke="#000" stroke-width="2.8" />
<line x1="386.86" y1="1385.7" x2="386.86" y2="1379.2" stroke="#000" stroke-width="2.8" />
<line x1="386.86" y1="761.6" x2="386.86" y2="768.1" stroke="#000" stroke-width="2.8" />
<line x1="410.12" y1="1385.7" x2="410.12" y2="1379.2" stroke="#000" stroke-width="2.8" />
<line x1="410.12" y1="761.6" x2="410.12" y2="768.1" stroke="#000" stroke-width="2.8" />
<line x1="433.38" y1="1385.7" x2="433.38" y2="1379.2" stroke="#000" stroke-width="2.8" />
<line x1="433.38" y1="761.6" x2="433.38" y2="768.1" stroke="#000" stroke-width="2.8" />
<line x1="456.64" y1="1385.7" x2="456.64" y2="1379.2" stroke="#000" stroke-width="2.8" />
<line x1="456.64" y1="761.6" x2="456.64" y2="768.1" stroke="#000" stroke-width="2.8" />
<line x1="479.9" y1="1385.7" x2="479.9" y2="1379.2" stroke="#000" stroke-width="2.8" />
<line x1="479.9" y1="761.6" x2="479.9" y2="768.1" stroke="#000" stroke-width="2.8" />
<line x1="503.16" y1="1385.7" x2="503.16" y2="1371.7" stroke="#000" stroke-width="3" />
<line x1="503.16" y1="761.6" x2="503.16" y2="775.6" stroke="#000" stroke-width="3" />
<line x1="526.42" y1="1385.7" x2="526.42" y2="1379.2" stroke="#000" stroke-width="2.8" />
<line x1="526.42" y1="761.6" x2="526.42" y2="768.1" stroke="#000" stroke-width="2.8" />
<line x1="549.68" y1="1385.7" x2="549.68" y2="1379.2" stroke="#000" stroke-width="2.8" />
<line x1="549.68" y1="761.6" x2="549.68" y2="768.1" stroke="#000" stroke-width="2.8" />
<line x1="572.94" y1="1385.7" x2="572.94" y2="1379.2" stroke="#000" stroke-width="2.8" />
<line x1="572.94" y1="761.6" x2="572.94" y2="768.1" stroke="#000" stroke-width="2.8" />
<line x1="596.2" y1="1385.7" x2="596.2" y2="1379.2" stroke="#000" stroke-width="2.8" />
<line x1="596.2" y1="761.6" x2="596.2" y2="768.1" stroke="#000" stroke-width="2.8" />
<line x1="619.46" y1="1385.7" x2="619.46" y2="1379.2" stroke="#000" stroke-width="2.8" />
<line x1="619.46" y1="761.6" x2="619.46" y2="768.1" stroke="#000" stroke-width="2.8" />
<line x1="642.72" y1="1385.7" x2="642.72" y2="1379.2" stroke="#000" stroke-width="2.8" />
<line x1="642.72" y1="761.6" x2="642.72" y2="768.1" stroke="#000" stroke-width="2.8" />
<line x1="665.98" y1="1385.7" x2="665.98" y2="1379.2" stroke="#000" stroke-width="2.8" />
<line x1="665.98" y1="761.6" x2="665.98" y2="768.1" stroke="#000" stroke-width="2.8" />
<line x1="689.24" y1="1385.7" x2="689.24" y2="1371.7" stroke="#000" stroke-width="3" />
<line x1="689.24" y1="761.6" x2="689.24" y2="775.6" stroke="#000" stroke-width="3" />
<line x1="712.5" y1="1385.7" x2="712.5" y2="1379.2" stroke="#000" stroke-width="2.8" />
<line x1="712.5" y1="761.6" x2="712.5" y2="768.1" stroke="#000" stroke-width="2.8" />
<line x1="735.76" y1="1385.7" x2="735.76" y2="1379.2" stroke="#000" stroke-width="2.8" />
<line x1="735.76" y1="761.6" x2="735.76" y2="768.1" stroke="#000" stroke-width="2.8" />
<line x1="759.02" y1="1385.7" x2="759.02" y2="1379.2" stroke="#000" stroke-width="2.8" />
<line x1="759.02" y1="761.6" x2="759.02" y2="768.1" stroke="#000" stroke-width="2.8" />
<line x1="782.28" y1="1385.7" x2="782.28" y2="1379.2" stroke="#000" stroke-width="2.8" />
<line x1="782.28" y1="761.6" x2="782.28" y2="768.1" stroke="#000" stroke-width="2.8" />
<line x1="805.54" y1="1385.7" x2="805.54" y2="1379.2" stroke="#000" stroke-width="2.8" />
<line x1="805.54" y1="761.6" x2="805.54" y2="768.1" stroke="#000" stroke-width="2.8" />
<line x1="828.8" y1="1385.7" x2="828.8" y2="1379.2" stroke="#000" stroke-width="2.8" />
<line x1="828.8" y1="761.6" x2="828.8" y2="768.1" stroke="#000" stroke-width="2.8" />
<line x1="852.06" y1="1385.7" x2="852.06" y2="1379.2" stroke="#000" stroke-width="2.8" />
<line x1="852.06" y1="761.6" x2="852.06" y2="768.1" stroke="#000" stroke-width="2.8" />
<line x1="875.32" y1="1385.7" x2="875.32" y2="1371.7" stroke="#000" stroke-width="3" />
<line x1="875.32" y1="761.6" x2="875.32" y2="775.6" stroke="#000" stroke-width="3" />
<line x1="898.58" y1="1385.7" x2="898.58" y2="1379.2" stroke="#000" stroke-width="2.8" />
<line x1="898.58" y1="761.6" x2="898.58" y2="768.1" stroke="#000" stroke-width="2.8" />
<line x1="921.84" y1="1385.7" x2="921.84" y2="1379.2" stroke="#000" stroke-width="2.8" />
<line x1="921.84" y1="761.6" x2="921.84" y2="768.1" stroke="#000" stroke-width="2.8" />
<line x1="945.1" y1="1385.7" x2="945.1" y2="1379.2" stroke="#000" stroke-width="2.8" />
<line x1="945.1" y1="761.6" x2="945.1" y2="768.1" stroke="#000" stroke-width="2.8" />
<line x1="131" y1="1385.72" x2="145" y2="1385.72" stroke="#000" stroke-width="3" />
<line x1="968.3" y1="1385.72" x2="954.3" y2="1385.72" stroke="#000" stroke-width="3" />
<line x1="131" y1="1358.92" x2="137.5" y2="1358.92" stroke="#000" stroke-width="2.8" />
<line x1="968.3" y1="1358.92" x2="961.8" y2="1358.92" stroke="#000" stroke-width="2.8" />
<line x1="131" y1="1343.24" x2="137.5" y2="1343.24" stroke="#000" stroke-width="2.8" />
<line x1="968.3" y1="1343.24" x2="961.8" y2="1343.24" stroke="#000" stroke-width="2.8" />
<line x1="131" y1="1332.11" x2="137.5" y2="1332.11" stroke="#000" stroke-width="2.8" />
<line x1="968.3" y1="1332.11" x2="961.8" y2="1332.11" stroke="#000" stroke-width="2.8" />
<line x1="131" y1="1323.48" x2="137.5" y2="1323.48" stroke="#000" stroke-width="2.8" />
<line x1="968.3" y1="1323.48" x2="961.8" y2="1323.48" stroke="#000" stroke-width="2.8" />
<line x1="131" y1="1316.43" x2="137.5" y2="1316.43" stroke="#000" stroke-width="2.8" />
<line x1="968.3" y1="1316.43" x2="961.8" y2="1316.43" stroke="#000" stroke-width="2.8" />
<line x1="131" y1="1310.47" x2="137.5" y2="1310.47" stroke="#000" stroke-width="2.8" />
<line x1="968.3" y1="1310.47" x2="961.8" y2="1310.47" stroke="#000" stroke-width="2.8" />
<line x1="131" y1="1305.31" x2="137.5" y2="1305.31" stroke="#000" stroke-width="2.8" />
<line x1="968.3" y1="1305.31" x2="961.8" y2="1305.31" stroke="#000" stroke-width="2.8" />
<line x1="131" y1="1300.75" x2="137.5" y2="1300.75" stroke="#000" stroke-width="2.8" />
<line x1="968.3" y1="1300.75" x2="961.8" y2="1300.75" stroke="#000" stroke-width="2.8" />
<line x1="131" y1="1296.68" x2="145" y2="1296.68" stroke="#000" stroke-width="3" />
<line x1="968.3" y1="1296.68" x2="954.3" y2="1296.68" stroke="#000" stroke-width="3" />
<line x1="131" y1="1269.88" x2="137.5" y2="1269.88" stroke="#000" stroke-width="2.8" />
<line x1="968.3" y1="1269.88" x2="961.8" y2="1269.88" stroke="#000" stroke-width="2.8" />
<line x1="131" y1="1254.2" x2="137.5" y2="1254.2" stroke="#000" stroke-width="2.8" />
<line x1="968.3" y1="1254.2" x2="961.8" y2="1254.2" stroke="#000" stroke-width="2.8" />
<line x1="131" y1="1243.07" x2="137.5" y2="1243.07" stroke="#000" stroke-width="2.8" />
<line x1="968.3" y1="1243.07" x2="961.8" y2="1243.07" stroke="#000" stroke-width="2.8" />
<line x1="131" y1="1234.44" x2="137.5" y2="1234.44" stroke="#000" stroke-width="2.8" />
<line x1="968.3" y1="1234.44" x2="961.8" y2="1234.44" stroke="#000" stroke-width="2.8" />
<line x1="131" y1="1227.39" x2="137.5" y2="1227.39" stroke="#000" stroke-width="2.8" />
<line x1="968.3" y1="1227.39" x2="961.8" y2="1227.39" stroke="#000" stroke-width="2.8" />
<line x1="131" y1="1221.43" x2="137.5" y2="1221.43" stroke="#000" stroke-width="2.8" />
<line x1="968.3" y1="1221.43" x2="961.8" y2="1221.43" stroke="#000" stroke-width="2.8" />
<line x1="131" y1="1216.27" x2="137.5" y2="1216.27" stroke="#000" stroke-width="2.8" />
<line x1="968.3" y1="1216.27" x2="961.8" y2="1216.27" stroke="#000" stroke-width="2.8" />
<line x1="131" y1="1211.71" x2="137.5" y2="1211.71" stroke="#000" stroke-width="2.8" />
<line x1="968.3" y1="1211.71" x2="961.8" y2="1211.71" stroke="#000" stroke-width="2.8" />
<line x1="131" y1="1207.64" x2="145" y2="1207.64" stroke="#000" stroke-width="3" />
<line x1="968.3" y1="1207.64" x2="954.3" y2="1207.64" stroke="#000" stroke-width="3" />
<line x1="131" y1="1180.84" x2="137.5" y2="1180.84" stroke="#000" stroke-width="2.8" />
<line x1="968.3" y1="1180.84" x2="961.8" y2="1180.84" stroke="#000" stroke-width="2.8" />
<line x1="131" y1="1165.16" x2="137.5" y2="1165.16" stroke="#000" stroke-width="2.8" />
<line x1="968.3" y1="1165.16" x2="961.8" y2="1165.16" stroke="#000" stroke-width="2.8" />
<line x1="131" y1="1154.03" x2="137.5" y2="1154.03" stroke="#000" stroke-width="2.8" />
<line x1="968.3" y1="1154.03" x2="961.8" y2="1154.03" stroke="#000" stroke-width="2.8" />
<line x1="131" y1="1145.4" x2="137.5" y2="1145.4" stroke="#000" stroke-width="2.8" />
<line x1="968.3" y1="1145.4" x2="961.8" y2="1145.4" stroke="#000" stroke-width="2.8" />
<line x1="131" y1="1138.35" x2="137.5" y2="1138.35" stroke="#000" stroke-width="2.8" />
<line x1="968.3" y1="1138.35" x2="961.8" y2="1138.35" stroke="#000" stroke-width="2.8" />
<line x1="131" y1="1132.39" x2="137.5" y2="1132.39" stroke="#000" stroke-width="2.8" />
<line x1="968.3" y1="1132.39" x2="961.8" y2="1132.39" stroke="#000" stroke-width="2.8" />
<line x1="131" y1="1127.23" x2="137.5" y2="1127.23" stroke="#000" stroke-width="2.8" />
<line x1="968.3" y1="1127.23" x2="961.8" y2="1127.23" stroke="#000" stroke-width="2.8" />
<line x1="131" y1="1122.67" x2="137.5" y2="1122.67" stroke="#000" stroke-width="2.8" />
<line x1="968.3" y1="1122.67" x2="961.8" y2="1122.67" stroke="#000" stroke-width="2.8" />
<line x1="131" y1="1118.6" x2="145" y2="1118.6" stroke="#000" stroke-width="3" />
<line x1="968.3" y1="1118.6" x2="954.3" y2="1118.6" stroke="#000" stroke-width="3" />
<line x1="131" y1="1091.8" x2="137.5" y2="1091.8" stroke="#000" stroke-width="2.8" />
<line x1="968.3" y1="1091.8" x2="961.8" y2="1091.8" stroke="#000" stroke-width="2.8" />
<line x1="131" y1="1076.12" x2="137.5" y2="1076.12" stroke="#000" stroke-width="2.8" />
<line x1="968.3" y1="1076.12" x2="961.8" y2="1076.12" stroke="#000" stroke-width="2.8" />
<line x1="131" y1="1064.99" x2="137.5" y2="1064.99" stroke="#000" stroke-width="2.8" />
<line x1="968.3" y1="1064.99" x2="961.8" y2="1064.99" stroke="#000" stroke-width="2.8" />
<line x1="131" y1="1056.36" x2="137.5" y2="1056.36" stroke="#000" stroke-width="2.8" />
<line x1="968.3" y1="1056.36" x2="961.8" y2="1056.36" stroke="#000" stroke-width="2.8" />
<line x1="131" y1="1049.31" x2="137.5" y2="1049.31" stroke="#000" stroke-width="2.8" />
<line x1="968.3" y1="1049.31" x2="961.8" y2="1049.31" stroke="#000" stroke-width="2.8" />
<line x1="131" y1="1043.35" x2="137.5" y2="1043.35" stroke="#000" stroke-width="2.8" />
<line x1="968.3" y1="1043.35" x2="961.8" y2="1043.35" stroke="#000" stroke-width="2.8" />
<line x1="131" y1="1038.19" x2="137.5" y2="1038.19" stroke="#000" stroke-width="2.8" />
<line x1="968.3" y1="1038.19" x2="961.8" y2="1038.19" stroke="#000" stroke-width="2.8" />
<line x1="131" y1="1033.63" x2="137.5" y2="1033.63" stroke="#000" stroke-width="2.8" />
<line x1="968.3" y1="1033.63" x2="961.8" y2="1033.63" stroke="#000" stroke-width="2.8" />
<line x1="131" y1="1029.56" x2="145" y2="1029.56" stroke="#000" stroke-width="3" />
<line x1="968.3" y1="1029.56" x2="954.3" y2="1029.56" stroke="#000" stroke-width="3" />
<line x1="131" y1="1002.76" x2="137.5" y2="1002.76" stroke="#000" stroke-width="2.8" />
<line x1="968.3" y1="1002.76" x2="961.8" y2="1002.76" stroke="#000" stroke-width="2.8" />
<line x1="131" y1="987.08" x2="137.5" y2="987.08" stroke="#000" stroke-width="2.8" />
<line x1="968.3" y1="987.08" x2="961.8" y2="987.08" stroke="#000" stroke-width="2.8" />
<line x1="131" y1="975.95" x2="137.5" y2="975.95" stroke="#000" stroke-width="2.8" />
<line x1="968.3" y1="975.95" x2="961.8" y2="975.95" stroke="#000" stroke-width="2.8" />
<line x1="131" y1="967.32" x2="137.5" y2="967.32" stroke="#000" stroke-width="2.8" />
<line x1="968.3" y1="967.32" x2="961.8" y2="967.32" stroke="#000" stroke-width="2.8" />
<line x1="131" y1="960.27" x2="137.5" y2="960.27" stroke="#000" stroke-width="2.8" />
<line x1="968.3" y1="960.27" x2="961.8" y2="960.27" stroke="#000" stroke-width="2.8" />
<line x1="131" y1="954.31" x2="137.5" y2="954.31" stroke="#000" stroke-width="2.8" />
<line x1="968.3" y1="954.31" x2="961.8" y2="954.31" stroke="#000" stroke-width="2.8" />
<line x1="131" y1="949.15" x2="137.5" y2="949.15" stroke="#000" stroke-width="2.8" />
<line x1="968.3" y1="949.15" x2="961.8" y2="949.15" stroke="#000" stroke-width="2.8" />
<line x1="131" y1="944.59" x2="137.5" y2="944.59" stroke="#000" stroke-width="2.8" />
<line x1="968.3" y1="944.59" x2="961.8" y2="944.59" stroke="#000" stroke-width="2.8" />
<line x1="131" y1="940.52" x2="145" y2="940.52" stroke="#000" stroke-width="3" />
<line x1="968.3" y1="940.52" x2="954.3" y2="940.52" stroke="#000" stroke-width="3" />
<line x1="131" y1="913.72" x2="137.5" y2="913.72" stroke="#000" stroke-width="2.8" />
<line x1="968.3" y1="913.72" x2="961.8" y2="913.72" stroke="#000" stroke-width="2.8" />
<line x1="131" y1="898.04" x2="137.5" y2="898.04" stroke="#000" stroke-width="2.8" />
<line x1="968.3" y1="898.04" x2="961.8" y2="898.04" stroke="#000" stroke-width="2.8" />
<line x1="131" y1="886.91" x2="137.5" y2="886.91" stroke="#000" stroke-width="2.8" />
<line x1="968.3" y1="886.91" x2="961.8" y2="886.91" stroke="#000" stroke-width="2.8" />
<line x1="131" y1="878.28" x2="137.5" y2="878.28" stroke="#000" stroke-width="2.8" />
<line x1="968.3" y1="878.28" x2="961.8" y2="878.28" stroke="#000" stroke-width="2.8" />
<line x1="131" y1="871.23" x2="137.5" y2="871.23" stroke="#000" stroke-width="2.8" />
<line x1="968.3" y1="871.23" x2="961.8" y2="871.23" stroke="#000" stroke-width="2.8" />
<line x1="131" y1="865.27" x2="137.5" y2="865.27" stroke="#000" stroke-width="2.8" />
<line x1="968.3" y1="865.27" x2="961.8" y2="865.27" stroke="#000" stroke-width="2.8" />
<line x1="131" y1="860.11" x2="137.5" y2="860.11" stroke="#000" stroke-width="2.8" />
<line x1="968.3" y1="860.11" x2="961.8" y2="860.11" stroke="#000" stroke-width="2.8" />
<line x1="131" y1="855.55" x2="137.5" y2="855.55" stroke="#000" stroke-width="2.8" />
<line x1="968.3" y1="855.55" x2="961.8" y2="855.55" stroke="#000" stroke-width="2.8" />
<line x1="131" y1="851.48" x2="145" y2="851.48" stroke="#000" stroke-width="3" />
<line x1="968.3" y1="851.48" x2="954.3" y2="851.48" stroke="#000" stroke-width="3" />
<line x1="131" y1="824.68" x2="137.5" y2="824.68" stroke="#000" stroke-width="2.8" />
<line x1="968.3" y1="824.68" x2="961.8" y2="824.68" stroke="#000" stroke-width="2.8" />
<line x1="131" y1="809" x2="137.5" y2="809" stroke="#000" stroke-width="2.8" />
<line x1="968.3" y1="809" x2="961.8" y2="809" stroke="#000" stroke-width="2.8" />
<line x1="131" y1="797.87" x2="137.5" y2="797.87" stroke="#000" stroke-width="2.8" />
<line x1="968.3" y1="797.87" x2="961.8" y2="797.87" stroke="#000" stroke-width="2.8" />
<line x1="131" y1="789.24" x2="137.5" y2="789.24" stroke="#000" stroke-width="2.8" />
<line x1="968.3" y1="789.24" x2="961.8" y2="789.24" stroke="#000" stroke-width="2.8" />
<line x1="131" y1="782.19" x2="137.5" y2="782.19" stroke="#000" stroke-width="2.8" />
<line x1="968.3" y1="782.19" x2="961.8" y2="782.19" stroke="#000" stroke-width="2.8" />
<line x1="131" y1="776.23" x2="137.5" y2="776.23" stroke="#000" stroke-width="2.8" />
<line x1="968.3" y1="776.23" x2="961.8" y2="776.23" stroke="#000" stroke-width="2.8" />
<line x1="131" y1="771.07" x2="137.5" y2="771.07" stroke="#000" stroke-width="2.8" />
<line x1="968.3" y1="771.07" x2="961.8" y2="771.07" stroke="#000" stroke-width="2.8" />
<line x1="131" y1="766.51" x2="137.5" y2="766.51" stroke="#000" stroke-width="2.8" />
<line x1="968.3" y1="766.51" x2="961.8" y2="766.51" stroke="#000" stroke-width="2.8" />
<rect x="131" y="761.6" width="837.3" height="624.1" fill="none" stroke="#000" stroke-width="2.3"/>
<text x="122" y="1402.72" font-size="41" text-anchor="end">10<tspan font-size="28" dx="2" dy="-25">−3</tspan></text>
<text x="122" y="1313.68" font-size="41" text-anchor="end">10<tspan font-size="28" dx="2" dy="-25">−2</tspan></text>
<text x="122" y="1224.64" font-size="41" text-anchor="end">10<tspan font-size="28" dx="2" dy="-25">−1</tspan></text>
<text x="122" y="1135.6" font-size="41" text-anchor="end">10<tspan font-size="28" dx="2" dy="-25">0</tspan></text>
<text x="122" y="1046.56" font-size="41" text-anchor="end">10<tspan font-size="28" dx="2" dy="-25">1</tspan></text>
<text x="122" y="957.52" font-size="41" text-anchor="end">10<tspan font-size="28" dx="2" dy="-25">2</tspan></text>
<text x="122" y="868.48" font-size="41" text-anchor="end">10<tspan font-size="28" dx="2" dy="-25">3</tspan></text>
<text x="122" y="779.44" font-size="41" text-anchor="end">10<tspan font-size="28" dx="2" dy="-25">4</tspan></text>
<text x="131" y="1421" font-size="41" text-anchor="middle" font-weight="normal" font-style="normal" fill="#000" >0.0</text>
<text x="317.08" y="1421" font-size="41" text-anchor="middle" font-weight="normal" font-style="normal" fill="#000" >4.0</text>
<text x="503.16" y="1421" font-size="41" text-anchor="middle" font-weight="normal" font-style="normal" fill="#000" >8.0</text>
<text x="689.24" y="1421" font-size="41" text-anchor="middle" font-weight="normal" font-style="normal" fill="#000" >12.0</text>
<text x="875.32" y="1421" font-size="41" text-anchor="middle" font-weight="normal" font-style="normal" fill="#000" >16.0</text>
<text x="549.6" y="1463.7" font-size="37.6" text-anchor="middle" font-weight="normal" font-style="normal" fill="#000" >Phonon energy (THz)</text>
<text transform="translate(36,1072.6) rotate(-90)" font-size="38" text-anchor="middle">Scattering rates (ps<tspan font-size="27" dy="-14">−1</tspan><tspan dy="14">)</tspan></text>
<text x="7" y="758.6" font-size="76" text-anchor="start" font-weight="bold" font-style="normal" fill="#000" >c</text>
<rect x="1168.8" y="1040.19" width="61.2" height="220.41" fill="#3a36a2" stroke="#333" stroke-width="1"/>
<rect x="1269.83" y="879.57" width="61.2" height="381.03" fill="#4a8cf0" stroke="#333" stroke-width="1"/>
<rect x="1370.86" y="802.78" width="61.2" height="457.82" fill="#58d0a0" stroke="#333" stroke-width="1"/>
<rect x="1471.89" y="842.05" width="61.2" height="418.55" fill="#7afc80" stroke="#333" stroke-width="1"/>
<rect x="1572.92" y="1019.09" width="61.2" height="241.51" fill="#c8fc8c" stroke="#333" stroke-width="1"/>
<rect x="1673.95" y="1105.84" width="61.2" height="154.76" fill="#dcdc8c" stroke="#333" stroke-width="1"/>
<rect x="1774.98" y="1114.64" width="61.2" height="145.96" fill="#a8926c" stroke="#333" stroke-width="1"/>
<rect x="1876.01" y="1248.88" width="61.2" height="11.72" fill="#987872" stroke="#333" stroke-width="1"/>
<polyline points="1199.4,1040.19 1300.43,879.57 1401.46,802.78 1502.49,842.05 1603.52,1019.09 1704.55,1105.84 1805.58,1114.64 1906.61,1248.88" stroke="#000" stroke-width="2.7" fill="none" />
<rect x="1193.5" y="1034.29" width="11.8" height="11.8" fill="#111"/>
<line x1="1190.7" y1="1040.19" x2="1208.1" y2="1040.19" stroke="#ff2010" stroke-width="4" />
<circle cx="1199.4" cy="1040.19" r="5.8" fill="#ff2010"/>
<rect x="1294.53" y="873.67" width="11.8" height="11.8" fill="#111"/>
<line x1="1291.73" y1="879.57" x2="1309.13" y2="879.57" stroke="#ff2010" stroke-width="4" />
<circle cx="1300.43" cy="879.57" r="5.8" fill="#ff2010"/>
<rect x="1395.56" y="796.88" width="11.8" height="11.8" fill="#111"/>
<line x1="1392.76" y1="802.78" x2="1410.16" y2="802.78" stroke="#ff2010" stroke-width="4" />
<circle cx="1401.46" cy="802.78" r="5.8" fill="#ff2010"/>
<rect x="1496.59" y="836.15" width="11.8" height="11.8" fill="#111"/>
<line x1="1493.79" y1="842.05" x2="1511.19" y2="842.05" stroke="#ff2010" stroke-width="4" />
<circle cx="1502.49" cy="842.05" r="5.8" fill="#ff2010"/>
<rect x="1597.62" y="1013.19" width="11.8" height="11.8" fill="#111"/>
<line x1="1594.82" y1="1019.09" x2="1612.22" y2="1019.09" stroke="#ff2010" stroke-width="4" />
<circle cx="1603.52" cy="1019.09" r="5.8" fill="#ff2010"/>
<rect x="1698.65" y="1099.94" width="11.8" height="11.8" fill="#111"/>
<line x1="1695.85" y1="1105.84" x2="1713.25" y2="1105.84" stroke="#ff2010" stroke-width="4" />
<circle cx="1704.55" cy="1105.84" r="5.8" fill="#ff2010"/>
<rect x="1799.68" y="1108.74" width="11.8" height="11.8" fill="#111"/>
<line x1="1796.88" y1="1114.64" x2="1814.28" y2="1114.64" stroke="#ff2010" stroke-width="4" />
<circle cx="1805.58" cy="1114.64" r="5.8" fill="#ff2010"/>
<rect x="1900.71" y="1242.98" width="11.8" height="11.8" fill="#111"/>
<line x1="1897.91" y1="1248.88" x2="1915.31" y2="1248.88" stroke="#ff2010" stroke-width="4" />
<circle cx="1906.61" cy="1248.88" r="5.8" fill="#ff2010"/>
<line x1="1131" y1="1231.29" x2="1137" y2="1231.29" stroke="#000" stroke-width="2.2" />
<line x1="1975" y1="1231.29" x2="1969" y2="1231.29" stroke="#000" stroke-width="2.2" />
<line x1="1131" y1="1201.98" x2="1144" y2="1201.98" stroke="#000" stroke-width="3" />
<line x1="1975" y1="1201.98" x2="1962" y2="1201.98" stroke="#000" stroke-width="3" />
<line x1="1131" y1="1172.67" x2="1137" y2="1172.67" stroke="#000" stroke-width="2.2" />
<line x1="1975" y1="1172.67" x2="1969" y2="1172.67" stroke="#000" stroke-width="2.2" />
<line x1="1131" y1="1143.36" x2="1144" y2="1143.36" stroke="#000" stroke-width="3" />
<line x1="1975" y1="1143.36" x2="1962" y2="1143.36" stroke="#000" stroke-width="3" />
<line x1="1131" y1="1114.05" x2="1137" y2="1114.05" stroke="#000" stroke-width="2.2" />
<line x1="1975" y1="1114.05" x2="1969" y2="1114.05" stroke="#000" stroke-width="2.2" />
<line x1="1131" y1="1084.74" x2="1144" y2="1084.74" stroke="#000" stroke-width="3" />
<line x1="1975" y1="1084.74" x2="1962" y2="1084.74" stroke="#000" stroke-width="3" />
<line x1="1131" y1="1055.43" x2="1137" y2="1055.43" stroke="#000" stroke-width="2.2" />
<line x1="1975" y1="1055.43" x2="1969" y2="1055.43" stroke="#000" stroke-width="2.2" />
<line x1="1131" y1="1026.12" x2="1144" y2="1026.12" stroke="#000" stroke-width="3" />
<line x1="1975" y1="1026.12" x2="1962" y2="1026.12" stroke="#000" stroke-width="3" />
<line x1="1131" y1="996.81" x2="1137" y2="996.81" stroke="#000" stroke-width="2.2" />
<line x1="1975" y1="996.81" x2="1969" y2="996.81" stroke="#000" stroke-width="2.2" />
<line x1="1131" y1="967.5" x2="1144" y2="967.5" stroke="#000" stroke-width="3" />
<line x1="1975" y1="967.5" x2="1962" y2="967.5" stroke="#000" stroke-width="3" />
<line x1="1131" y1="938.19" x2="1137" y2="938.19" stroke="#000" stroke-width="2.2" />
<line x1="1975" y1="938.19" x2="1969" y2="938.19" stroke="#000" stroke-width="2.2" />
<line x1="1131" y1="908.88" x2="1144" y2="908.88" stroke="#000" stroke-width="3" />
<line x1="1975" y1="908.88" x2="1962" y2="908.88" stroke="#000" stroke-width="3" />
<line x1="1131" y1="879.57" x2="1137" y2="879.57" stroke="#000" stroke-width="2.2" />
<line x1="1975" y1="879.57" x2="1969" y2="879.57" stroke="#000" stroke-width="2.2" />
<line x1="1131" y1="850.26" x2="1144" y2="850.26" stroke="#000" stroke-width="3" />
<line x1="1975" y1="850.26" x2="1962" y2="850.26" stroke="#000" stroke-width="3" />
<line x1="1131" y1="820.95" x2="1137" y2="820.95" stroke="#000" stroke-width="2.2" />
<line x1="1975" y1="820.95" x2="1969" y2="820.95" stroke="#000" stroke-width="2.2" />
<line x1="1131" y1="791.64" x2="1144" y2="791.64" stroke="#000" stroke-width="3" />
<line x1="1975" y1="791.64" x2="1962" y2="791.64" stroke="#000" stroke-width="3" />
<rect x="1131" y="762" width="844" height="498.6" fill="none" stroke="#000" stroke-width="3"/>
<text x="1124.5" y="1271.9" font-size="34" text-anchor="end" font-weight="normal" font-style="normal" fill="#000" >0</text>
<text x="1124.5" y="1213.28" font-size="34" text-anchor="end" font-weight="normal" font-style="normal" fill="#000" >100</text>
<text x="1124.5" y="1154.66" font-size="34" text-anchor="end" font-weight="normal" font-style="normal" fill="#000" >200</text>
<text x="1124.5" y="1096.04" font-size="34" text-anchor="end" font-weight="normal" font-style="normal" fill="#000" >300</text>
<text x="1124.5" y="1037.42" font-size="34" text-anchor="end" font-weight="normal" font-style="normal" fill="#000" >400</text>
<text x="1124.5" y="978.8" font-size="34" text-anchor="end" font-weight="normal" font-style="normal" fill="#000" >500</text>
<text x="1124.5" y="920.18" font-size="34" text-anchor="end" font-weight="normal" font-style="normal" fill="#000" >600</text>
<text x="1124.5" y="861.56" font-size="34" text-anchor="end" font-weight="normal" font-style="normal" fill="#000" >700</text>
<text x="1124.5" y="802.94" font-size="34" text-anchor="end" font-weight="normal" font-style="normal" fill="#000" >800</text>
<text x="1766.5" y="819.9" font-size="41.5" font-weight="bold" fill="#3a5ec4"><tspan font-style="italic">T</tspan> = 300 K</text>
<text transform="translate(1195.4,1435) rotate(-81.5)" font-size="24" font-weight="bold" font-style="italic" stroke="#000" stroke-width="0.45">Band No. 4</text>
<text transform="translate(1296.43,1435) rotate(-81.5)" font-size="24" font-weight="bold" font-style="italic" stroke="#000" stroke-width="0.45">Band No. 5</text>
<text transform="translate(1397.46,1435) rotate(-81.5)" font-size="24" font-weight="bold" font-style="italic" stroke="#000" stroke-width="0.45">Band No. 6</text>
<text transform="translate(1498.49,1435) rotate(-81.5)" font-size="24" font-weight="bold" font-style="italic" stroke="#000" stroke-width="0.45">Band No. 7</text>
<text transform="translate(1599.52,1435) rotate(-81.5)" font-size="24" font-weight="bold" font-style="italic" stroke="#000" stroke-width="0.45">Band No. 8</text>
<text transform="translate(1700.55,1435) rotate(-81.5)" font-size="24" font-weight="bold" font-style="italic" stroke="#000" stroke-width="0.45">Band No. 9</text>
<text transform="translate(1801.58,1435) rotate(-81.5)" font-size="24" font-weight="bold" font-style="italic" stroke="#000" stroke-width="0.45">Band No. 10</text>
<text transform="translate(1902.61,1435) rotate(-81.5)" font-size="24" font-weight="bold" font-style="italic" stroke="#000" stroke-width="0.45">Band No. 16-36</text>
<text transform="translate(1058.7,1013) rotate(-90)" font-size="34" text-anchor="middle"><tspan font-style="italic">κ</tspan><tspan font-style="italic" font-size="24" dy="4">L</tspan><tspan dy="-4"> (W/mK)</tspan></text>
<text x="1017" y="769.9" font-size="78" text-anchor="start" font-weight="normal" font-style="normal" fill="#000" >d</text>
</svg>
</body></html>
